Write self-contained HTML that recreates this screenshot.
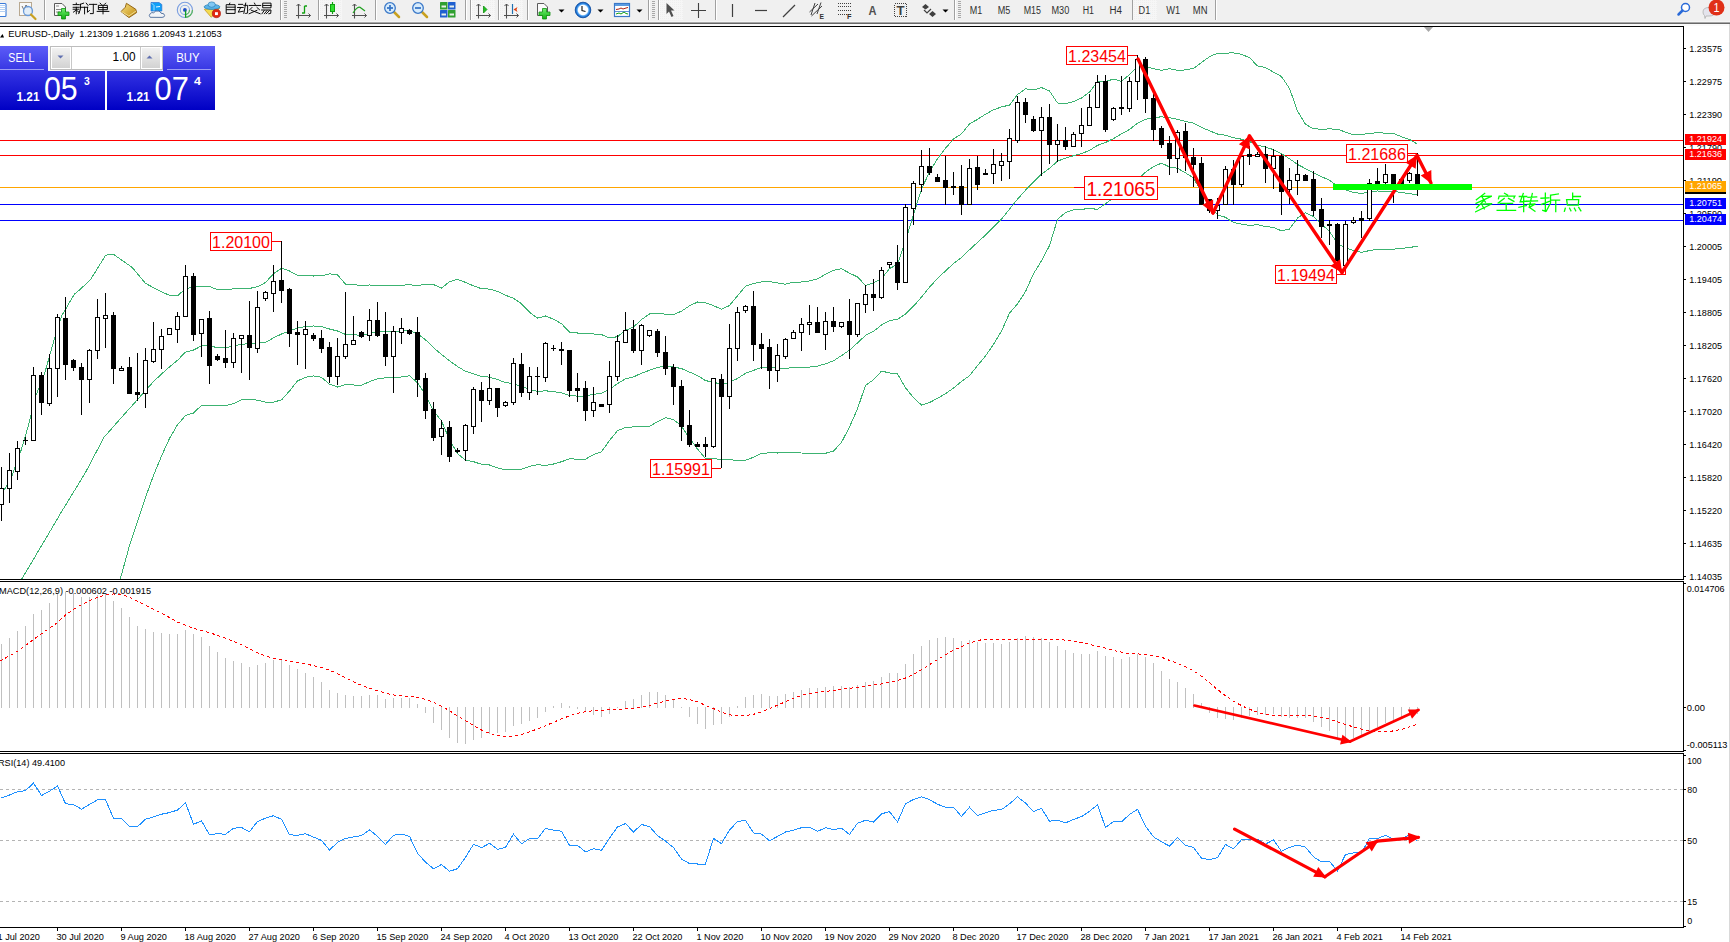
<!DOCTYPE html><html><head><meta charset="utf-8"><title>EURUSD-,Daily</title>
<style>html,body{margin:0;padding:0;background:#fff;overflow:hidden;width:1730px;height:942px}svg{display:block}text{font-family:"Liberation Sans",sans-serif}</style></head><body>
<svg width="1730" height="942" viewBox="0 0 1730 942">
<rect x="0" y="0" width="1730" height="942" fill="#ffffff"/>
<g id="toolbar">
<rect x="0" y="0" width="1730" height="22" fill="#f0f0f0"/>
<rect x="0" y="21" width="1730" height="1" fill="#f6f6f6"/>
<rect x="0" y="22" width="1730" height="1" fill="#a8a8a8"/>
<rect x="0" y="23" width="1730" height="1" fill="#686868"/>
<rect x="0" y="24" width="1730" height="2" fill="#fafafa"/>
<defs>
<linearGradient id="gold" x1="0" y1="0" x2="1" y2="1"><stop offset="0" stop-color="#f8e080"/><stop offset="1" stop-color="#c08a10"/></linearGradient>
<linearGradient id="bluedoc" x1="0" y1="0" x2="0" y2="1"><stop offset="0" stop-color="#bfe0ff"/><stop offset="1" stop-color="#3a8ee0"/></linearGradient>
<radialGradient id="clockg" cx="0.5" cy="0.5" r="0.5"><stop offset="0.6" stop-color="#ffffff"/><stop offset="0.75" stop-color="#4aa0f0"/><stop offset="1" stop-color="#0050b8"/></radialGradient>
<linearGradient id="greenp" x1="0" y1="0" x2="0" y2="1"><stop offset="0" stop-color="#70f070"/><stop offset="1" stop-color="#10b010"/></linearGradient>
<linearGradient id="hat" x1="0" y1="0" x2="0" y2="1"><stop offset="0" stop-color="#a8d8f8"/><stop offset="1" stop-color="#3a90d0"/></linearGradient>
<pattern id="chk" width="2" height="2" patternUnits="userSpaceOnUse"><rect width="2" height="2" fill="#f6f6f6"/><rect width="1" height="1" fill="#efefef"/></pattern>
</defs>
<rect x="319" y="0" width="23" height="20" fill="url(#chk)"/>
<rect x="471" y="0" width="24" height="20" fill="url(#chk)"/>
<rect x="499" y="0" width="24" height="20" fill="url(#chk)"/>
<rect x="659" y="0" width="24" height="20" fill="url(#chk)"/>
<rect x="1133" y="0" width="24" height="20" fill="url(#chk)"/>
<rect x="-4" y="3.5" width="10" height="13" rx="1" fill="#fff" stroke="#3a7ad8" stroke-width="1.1"/>
<rect x="-3" y="5" width="8.5" height="1" fill="#b4d0f4"/>
<rect x="-3" y="7" width="8.5" height="1" fill="#b4d0f4"/>
<rect x="-3" y="9" width="8.5" height="1" fill="#b4d0f4"/>
<rect x="-3" y="11" width="8.5" height="1" fill="#b4d0f4"/>
<rect x="19.5" y="2.5" width="12" height="13" fill="#f8f8f8" stroke="#b8a890" stroke-width="1"/>
<path d="M22,6 L24,10 L26,5 L28,8" fill="none" stroke="#707070" stroke-width="1"/>
<circle cx="28" cy="11" r="4.5" fill="#dceaf8" fill-opacity="0.8" stroke="#6a9ad8" stroke-width="1.3"/>
<path d="M31,14.5 L35.5,19" stroke="#c8a020" stroke-width="2.2" stroke-linecap="round"/>
<rect x="44" y="0" width="1" height="20" fill="#a0a0a0" shape-rendering="crispEdges"/><rect x="45" y="0" width="1" height="20" fill="#ffffff" shape-rendering="crispEdges"/>
<path d="M54.5,3.5 L62,3.5 L65.5,7 L65.5,15.5 L54.5,15.5 Z" fill="#fafafa" stroke="#5a5a5a" stroke-width="1"/>
<path d="M56,6 L59,6 M56,9.5 L61,9.5 M56,12 L60,12" stroke="#888" stroke-width="1"/>
<path d="M61.5,8.5 L65.5,8.5 L65.5,12 L69,12 L69,15.5 L65.5,15.5 L65.5,19 L61.5,19 L61.5,15.5 L58,15.5 L58,12 L61.5,12 Z" fill="url(#greenp)" stroke="#109010" stroke-width="0.8"/>
<g transform="translate(70,0) scale(0.024278)"><path d="M260,130 L260,170 M130,190 L370,190 M130,300 L380,300 M130,380 L370,380 M260,300 L260,570 M250,420 L140,500 M290,440 L380,510 M560,130 L420,180 M430,180 L430,380 L360,560 M430,300 L730,300 M600,300 L600,570 M670,130 L740,220 M720,300 L720,510 L800,430 M800,180 L1100,180 M960,180 L960,560 L840,560 M1240,130 L1290,180 M1470,130 L1420,180 M1190,220 L1540,220 L1540,400 L1190,400 Z M1190,310 L1540,310 M1360,220 L1360,570 M1120,470 L1600,470" fill="none" stroke="#000" stroke-width="0.95" vector-effect="non-scaling-stroke" stroke-linecap="square"/></g>
<path d="M126.4,3.3 L135.8,9.3 L136.6,12.6 L129,17.6 L121,11.5 L125.3,7.2 Z" fill="url(#gold)" stroke="#8a5a08" stroke-width="0.9" stroke-linejoin="round"/>
<path d="M121.5,11.6 L128.8,16 L136,11" fill="none" stroke="#f0dc90" stroke-width="1"/>
<path d="M151,2.5 L159,2.5 L161.8,4.5 L161.8,11 L151,11 Z" fill="#10a0f8" stroke="#2a70d0" stroke-width="0.7"/>
<path d="M151.5,3 L154,5.5 L154,10.5" fill="none" stroke="#c8ecff" stroke-width="0.8"/>
<path d="M156,7 L160,6.5" stroke="#e8f6ff" stroke-width="1.2"/>
<path d="M150.2,17.3 Q148.3,15.3 150.3,13.6 Q151.7,12 153.6,12.8 Q155.6,10.2 158.4,11.1 Q160.3,11 161,13.2 Q164.6,13.1 164.6,15.6 Q164.4,17.4 162,17.4 Z" fill="#f2f4f8" stroke="#4a6a9a" stroke-width="0.9"/>
<circle cx="184.9" cy="9.9" r="7.6" fill="none" stroke="#7a9ee0" stroke-width="1.1"/>
<circle cx="184.9" cy="9.9" r="4.6" fill="none" stroke="#8aaee6" stroke-width="1.1"/>
<path d="M192.5,9.9 A7.6,7.6 0 0 1 184.9,17.5 M189.5,9.9 A4.6,4.6 0 0 1 184.9,14.5" fill="none" stroke="#5ab85a" stroke-width="1.2"/>
<circle cx="184.9" cy="9.9" r="1.9" fill="#2050c8"/>
<path d="M185.6,10.5 L185.6,17.6" stroke="#10a020" stroke-width="1.3"/>
<path d="M204.3,9.3 L219.6,8.3 L211.3,17.3 Z" fill="#f4dc50" stroke="#c89a20" stroke-width="0.8" stroke-linejoin="round"/>
<ellipse cx="212" cy="6.9" rx="7.9" ry="2.5" fill="#5ab4e8" stroke="#2a80b8" stroke-width="0.8"/>
<ellipse cx="211.7" cy="4.6" rx="3.6" ry="2.7" fill="#80c8f4" stroke="#2a80b8" stroke-width="0.7"/>
<circle cx="216.4" cy="13.6" r="4.1" fill="#e02810" stroke="#b01808" stroke-width="0.7"/>
<rect x="215" y="12.2" width="2.9" height="2.9" fill="#fff"/>
<g transform="translate(222,0) scale(0.031211)"><path d="M250,100 L230,150 M150,150 L420,150 L420,430 L150,430 Z M150,230 L420,230 M150,310 L420,310 M530,140 L660,140 M500,240 L680,240 M600,240 L520,390 L680,360 M700,170 L820,170 L820,420 L760,430 M760,100 L700,430 M1040,100 L1060,140 M870,175 L1240,175 M960,240 L880,320 M1120,240 L1200,310 M940,330 L1220,440 M1120,330 L870,440 M1320,100 L1570,100 L1570,250 L1320,250 Z M1320,175 L1570,175 M1270,320 L1570,320 L1560,430 L1500,440 M1350,340 L1280,440 M1440,340 L1360,440 M1520,340 L1420,440" fill="none" stroke="#000" stroke-width="0.95" vector-effect="non-scaling-stroke" stroke-linecap="square"/></g>
<rect x="280" y="0" width="1" height="20" fill="#a0a0a0" shape-rendering="crispEdges"/><rect x="281" y="0" width="1" height="20" fill="#ffffff" shape-rendering="crispEdges"/>
<rect x="284" y="1" width="3" height="1" fill="#a8a8a8" shape-rendering="crispEdges"/>
<rect x="284" y="3" width="3" height="1" fill="#a8a8a8" shape-rendering="crispEdges"/>
<rect x="284" y="5" width="3" height="1" fill="#a8a8a8" shape-rendering="crispEdges"/>
<rect x="284" y="7" width="3" height="1" fill="#a8a8a8" shape-rendering="crispEdges"/>
<rect x="284" y="9" width="3" height="1" fill="#a8a8a8" shape-rendering="crispEdges"/>
<rect x="284" y="11" width="3" height="1" fill="#a8a8a8" shape-rendering="crispEdges"/>
<rect x="284" y="13" width="3" height="1" fill="#a8a8a8" shape-rendering="crispEdges"/>
<rect x="284" y="15" width="3" height="1" fill="#a8a8a8" shape-rendering="crispEdges"/>
<rect x="284" y="17" width="3" height="1" fill="#a8a8a8" shape-rendering="crispEdges"/>
<path d="M298.5,4 L298.5,18.5 M296,15.5 L310.5,15.5" fill="none" stroke="#505050" stroke-width="1.1"/>
<path d="M296.5,6 L298.5,4 L300.5,6 M308.5,13.5 L310.5,15.5 L308.5,17.5" fill="none" stroke="#505050" stroke-width="1"/>
<path d="M304.5,6 L304.5,13.5 M304.5,6 L307,6 M302,13 L304.5,13" fill="none" stroke="#10a010" stroke-width="1.3"/>
<rect x="318" y="0" width="1" height="20" fill="#a0a0a0" shape-rendering="crispEdges"/><rect x="319" y="0" width="1" height="20" fill="#ffffff" shape-rendering="crispEdges"/>
<path d="M326.5,4 L326.5,18.5 M324,15.5 L338.5,15.5" fill="none" stroke="#505050" stroke-width="1.1"/>
<path d="M324.5,6 L326.5,4 L328.5,6 M336.5,13.5 L338.5,15.5 L336.5,17.5" fill="none" stroke="#505050" stroke-width="1"/>
<path d="M332.5,2 L332.5,14" stroke="#10a010" stroke-width="1.2"/>
<rect x="330.5" y="4.5" width="4" height="7" fill="#30e030" stroke="#10a010" stroke-width="1"/>
<path d="M354.5,4 L354.5,18.5 M352,15.5 L366.5,15.5" fill="none" stroke="#505050" stroke-width="1.1"/>
<path d="M352.5,6 L354.5,4 L356.5,6 M364.5,13.5 L366.5,15.5 L364.5,17.5" fill="none" stroke="#505050" stroke-width="1"/>
<path d="M353,13 Q358,5 361,8 L365,11" fill="none" stroke="#20a020" stroke-width="1.2"/>
<rect x="375" y="0" width="1" height="20" fill="#a0a0a0" shape-rendering="crispEdges"/><rect x="376" y="0" width="1" height="20" fill="#ffffff" shape-rendering="crispEdges"/>
<path d="M393.5,11.5 L399,17" stroke="#c8a020" stroke-width="2.5" stroke-linecap="round"/>
<circle cx="390" cy="8" r="5.3" fill="#d8ecfc" stroke="#3a78c8" stroke-width="1.3"/>
<path d="M387,8 L393,8" stroke="#3a78c8" stroke-width="1.8"/>
<path d="M390,5 L390,11" stroke="#3a78c8" stroke-width="1.8"/>
<path d="M421.5,11.5 L427,17" stroke="#c8a020" stroke-width="2.5" stroke-linecap="round"/>
<circle cx="418" cy="8" r="5.3" fill="#d8ecfc" stroke="#3a78c8" stroke-width="1.3"/>
<path d="M415,8 L421,8" stroke="#3a78c8" stroke-width="1.8"/>
<rect x="440" y="2" width="7.5" height="7.5" fill="#30a030" rx="0.5"/>
<rect x="441.5" y="5.5" width="4.5" height="2" fill="#e8f0e8"/>
<rect x="448" y="2" width="7.5" height="7.5" fill="#2060d0" rx="0.5"/>
<rect x="449.5" y="5.5" width="4.5" height="2" fill="#e8f0e8"/>
<rect x="440" y="10" width="7.5" height="7.5" fill="#2060d0" rx="0.5"/>
<rect x="441.5" y="13.5" width="4.5" height="2" fill="#e8f0e8"/>
<rect x="448" y="10" width="7.5" height="7.5" fill="#30a030" rx="0.5"/>
<rect x="449.5" y="13.5" width="4.5" height="2" fill="#e8f0e8"/>
<rect x="465" y="0" width="1" height="20" fill="#a0a0a0" shape-rendering="crispEdges"/><rect x="466" y="0" width="1" height="20" fill="#ffffff" shape-rendering="crispEdges"/>
<rect x="470" y="0" width="1" height="20" fill="#a0a0a0" shape-rendering="crispEdges"/><rect x="471" y="0" width="1" height="20" fill="#ffffff" shape-rendering="crispEdges"/>
<path d="M478.5,4 L478.5,18.5 M476,15.5 L490.5,15.5" fill="none" stroke="#505050" stroke-width="1.1"/>
<path d="M476.5,6 L478.5,4 L480.5,6 M488.5,13.5 L490.5,15.5 L488.5,17.5" fill="none" stroke="#505050" stroke-width="1"/>
<path d="M483.5,6 L487,9.5 L483.5,13 Z" fill="#20c020" stroke="#109010" stroke-width="0.8"/>
<rect x="498" y="0" width="1" height="20" fill="#a0a0a0" shape-rendering="crispEdges"/><rect x="499" y="0" width="1" height="20" fill="#ffffff" shape-rendering="crispEdges"/>
<path d="M506.5,4 L506.5,18.5 M504,15.5 L518.5,15.5" fill="none" stroke="#505050" stroke-width="1.1"/>
<path d="M504.5,6 L506.5,4 L508.5,6 M516.5,13.5 L518.5,15.5 L516.5,17.5" fill="none" stroke="#505050" stroke-width="1"/>
<path d="M512.5,4 L512.5,14" stroke="#2070b0" stroke-width="1.2"/>
<path d="M513.5,9.5 L517.5,7 L516.5,9.5 L517.5,12 Z" fill="#e04010"/>
<rect x="527" y="0" width="1" height="20" fill="#a0a0a0" shape-rendering="crispEdges"/><rect x="528" y="0" width="1" height="20" fill="#ffffff" shape-rendering="crispEdges"/>
<path d="M537.5,3.5 L544,3.5 L547.5,7 L547.5,15.5 L537.5,15.5 Z" fill="#fafafa" stroke="#5a5a5a" stroke-width="1"/>
<path d="M541.5,8.5 L545.5,8.5 L545.5,12 L549,12 L549,15.5 L545.5,15.5 L545.5,19 L541.5,19 L541.5,15.5 L538,15.5 L538,12 L541.5,12 Z" transform="translate(1,0)" fill="url(#greenp)" stroke="#109010" stroke-width="0.8"/>
<path d="M558.5,9.5 L564.5,9.5 L561.5,12.5 Z" fill="#000"/>
<circle cx="583" cy="10" r="7.8" fill="url(#clockg)" stroke="#0a4aa0" stroke-width="0.8"/>
<path d="M582,6 L582,10.5 L585.5,11.5" fill="none" stroke="#202020" stroke-width="1.2"/>
<path d="M597.5,9.5 L603.5,9.5 L600.5,12.5 Z" fill="#000"/>
<rect x="614.5" y="3.5" width="15" height="13" fill="#fff" stroke="#3a78c8" stroke-width="1.2"/>
<rect x="615" y="4" width="14" height="2" fill="#5a9ae0"/>
<path d="M616,9.5 L619,9 L621,8 L623,9 L626,8 L628,7.5" fill="none" stroke="#b02010" stroke-width="1"/>
<path d="M616,14 L619,13 L621,14 L624,12 L626,13.5 L628,14" fill="none" stroke="#10a010" stroke-width="1"/>
<path d="M615,11.5 L629,11.5" stroke="#3a78c8" stroke-width="0.8"/>
<path d="M636.5,9.5 L642.5,9.5 L639.5,12.5 Z" fill="#000"/>
<rect x="648" y="0" width="1" height="20" fill="#a0a0a0" shape-rendering="crispEdges"/><rect x="649" y="0" width="1" height="20" fill="#ffffff" shape-rendering="crispEdges"/>
<rect x="652" y="1" width="3" height="1" fill="#a8a8a8" shape-rendering="crispEdges"/>
<rect x="652" y="3" width="3" height="1" fill="#a8a8a8" shape-rendering="crispEdges"/>
<rect x="652" y="5" width="3" height="1" fill="#a8a8a8" shape-rendering="crispEdges"/>
<rect x="652" y="7" width="3" height="1" fill="#a8a8a8" shape-rendering="crispEdges"/>
<rect x="652" y="9" width="3" height="1" fill="#a8a8a8" shape-rendering="crispEdges"/>
<rect x="652" y="11" width="3" height="1" fill="#a8a8a8" shape-rendering="crispEdges"/>
<rect x="652" y="13" width="3" height="1" fill="#a8a8a8" shape-rendering="crispEdges"/>
<rect x="652" y="15" width="3" height="1" fill="#a8a8a8" shape-rendering="crispEdges"/>
<rect x="652" y="17" width="3" height="1" fill="#a8a8a8" shape-rendering="crispEdges"/>
<rect x="658" y="0" width="1" height="20" fill="#a0a0a0" shape-rendering="crispEdges"/><rect x="659" y="0" width="1" height="20" fill="#ffffff" shape-rendering="crispEdges"/>
<path d="M666.5,3 L666.5,14 L669,11.5 L671.5,17 L673.5,16 L671,10.5 L674.5,10.5 Z" fill="#505050"/>
<path d="M698.5,3 L698.5,18 M691,10.5 L706,10.5" stroke="#404040" stroke-width="1.1"/>
<rect x="715" y="0" width="1" height="20" fill="#a0a0a0" shape-rendering="crispEdges"/><rect x="716" y="0" width="1" height="20" fill="#ffffff" shape-rendering="crispEdges"/>
<path d="M732.5,4 L732.5,17" stroke="#404040" stroke-width="1.2"/>
<path d="M755,10.5 L767,10.5" stroke="#404040" stroke-width="1.2"/>
<path d="M783,17 L795,5" stroke="#404040" stroke-width="1.2"/>
<path d="M809.5,12 L818,4 M811.5,16 L822,6 M815,3 L811,15 M821,2.5 L817,14" fill="none" stroke="#404040" stroke-width="1"/>
<text x="819.50" y="18.50" font-size="8" fill="#303030" font-weight="bold" textLength="4.50" lengthAdjust="spacingAndGlyphs">E</text>
<path d="M838,3.5 L851,3.5" stroke="#404040" stroke-width="1" stroke-dasharray="1,1"/>
<path d="M838,6.5 L851,6.5" stroke="#404040" stroke-width="1" stroke-dasharray="1,1"/>
<path d="M838,10.5 L851,10.5" stroke="#404040" stroke-width="1" stroke-dasharray="1,1"/>
<path d="M838,14.5 L851,14.5" stroke="#404040" stroke-width="1" stroke-dasharray="1,1"/>
<text x="847.00" y="18.50" font-size="8" fill="#303030" font-weight="bold" textLength="4.50" lengthAdjust="spacingAndGlyphs">F</text>
<text x="868.50" y="15.00" font-size="12" fill="#505050" font-weight="bold" textLength="8.00" lengthAdjust="spacingAndGlyphs">A</text>
<rect x="894.5" y="3.5" width="12" height="13" fill="none" stroke="#404040" stroke-width="1" stroke-dasharray="1,1" shape-rendering="crispEdges"/>
<text x="896.50" y="15.00" font-size="12" fill="#404040" font-weight="bold" textLength="8.00" lengthAdjust="spacingAndGlyphs">T</text>
<path d="M922,7 L925.5,4 L929,7 L925.5,9.5 Z M929,14 L932.5,11 L936,14 L932.5,17 Z" fill="#404040"/>
<path d="M924,10 L927,13 L931,9" fill="none" stroke="#404040" stroke-width="1.2"/>
<path d="M942.5,9.5 L948.5,9.5 L945.5,12.5 Z" fill="#000"/>
<rect x="954" y="0" width="1" height="20" fill="#a0a0a0" shape-rendering="crispEdges"/><rect x="955" y="0" width="1" height="20" fill="#ffffff" shape-rendering="crispEdges"/>
<rect x="958" y="1" width="3" height="1" fill="#a8a8a8" shape-rendering="crispEdges"/>
<rect x="958" y="3" width="3" height="1" fill="#a8a8a8" shape-rendering="crispEdges"/>
<rect x="958" y="5" width="3" height="1" fill="#a8a8a8" shape-rendering="crispEdges"/>
<rect x="958" y="7" width="3" height="1" fill="#a8a8a8" shape-rendering="crispEdges"/>
<rect x="958" y="9" width="3" height="1" fill="#a8a8a8" shape-rendering="crispEdges"/>
<rect x="958" y="11" width="3" height="1" fill="#a8a8a8" shape-rendering="crispEdges"/>
<rect x="958" y="13" width="3" height="1" fill="#a8a8a8" shape-rendering="crispEdges"/>
<rect x="958" y="15" width="3" height="1" fill="#a8a8a8" shape-rendering="crispEdges"/>
<rect x="958" y="17" width="3" height="1" fill="#a8a8a8" shape-rendering="crispEdges"/>
<text x="969.70" y="14.00" font-size="10" fill="#303030" textLength="12.50" lengthAdjust="spacingAndGlyphs">M1</text>
<text x="997.70" y="14.00" font-size="10" fill="#303030" textLength="12.60" lengthAdjust="spacingAndGlyphs">M5</text>
<text x="1023.70" y="14.00" font-size="10" fill="#303030" textLength="17.30" lengthAdjust="spacingAndGlyphs">M15</text>
<text x="1051.50" y="14.00" font-size="10" fill="#303030" textLength="17.80" lengthAdjust="spacingAndGlyphs">M30</text>
<text x="1082.70" y="14.00" font-size="10" fill="#303030" textLength="11.30" lengthAdjust="spacingAndGlyphs">H1</text>
<text x="1109.50" y="14.00" font-size="10" fill="#303030" textLength="12.50" lengthAdjust="spacingAndGlyphs">H4</text>
<text x="1138.60" y="14.00" font-size="10" fill="#303030" textLength="11.70" lengthAdjust="spacingAndGlyphs">D1</text>
<text x="1166.30" y="14.00" font-size="10" fill="#303030" textLength="13.90" lengthAdjust="spacingAndGlyphs">W1</text>
<text x="1192.80" y="14.00" font-size="10" fill="#303030" textLength="14.70" lengthAdjust="spacingAndGlyphs">MN</text>
<rect x="1132" y="0" width="1" height="20" fill="#a0a0a0"/>
<rect x="1215" y="0" width="1" height="20" fill="#a0a0a0" shape-rendering="crispEdges"/><rect x="1216" y="0" width="1" height="20" fill="#ffffff" shape-rendering="crispEdges"/>
<circle cx="1685.5" cy="7.5" r="4" fill="#fff" stroke="#2a6ad8" stroke-width="1.5"/>
<path d="M1682.5,10.5 L1678.5,14.5" stroke="#2a6ad8" stroke-width="2.5" stroke-linecap="round"/>
<path d="M1703,12 Q1703,7.5 1709,7.5 Q1715,7.5 1715,12 Q1715,16 1709,16 L1706,16 L1705,18.5 L1704.5,15.5 Q1703,14.5 1703,12 Z" fill="#e4e4ec" stroke="#b0b0b0" stroke-width="0.8"/>
<circle cx="1716.5" cy="7.5" r="8" fill="#e03018"/>
<text x="1713.60" y="12.20" font-size="12" fill="#fff" textLength="6.00" lengthAdjust="spacingAndGlyphs">1</text>
</g>
<g shape-rendering="crispEdges">
<rect x="0" y="26" width="1684" height="1" fill="#000"/>
<rect x="0" y="579" width="1684" height="1" fill="#000"/>
<rect x="0" y="581" width="1684" height="1" fill="#000"/>
<rect x="0" y="751" width="1684" height="1" fill="#000"/>
<rect x="0" y="753" width="1684" height="1" fill="#000"/>
<rect x="0" y="927" width="1684" height="1" fill="#000"/>
<rect x="1683" y="26" width="1" height="554" fill="#000"/>
<rect x="1683" y="581" width="1" height="171" fill="#000"/>
<rect x="1683" y="753" width="1" height="175" fill="#000"/>
<rect x="1729" y="24" width="1" height="918" fill="#d9d9d9"/>
</g>
<clipPath id="cm"><rect x="0" y="27" width="1683" height="552"/></clipPath>
<g clip-path="url(#cm)">
<g shape-rendering="crispEdges">
<rect x="0" y="140" width="1683" height="1" fill="#ff0000"/>
<rect x="0" y="155" width="1683" height="1" fill="#ff0000"/>
<rect x="0" y="187" width="1683" height="1" fill="#ffa500"/>
<rect x="0" y="204" width="1683" height="1" fill="#0000ff"/>
<rect x="0" y="220" width="1683" height="1" fill="#0000ff"/>
</g>
<polyline fill="none" stroke="#3cb371" stroke-width="1" shape-rendering="crispEdges" points="-2.0,499.0 3.8,490.4 10.6,479.8 21.2,450.0 28.7,424.6 35.9,395.4 44.4,374.2 55.5,335.1 61.4,316.4 74.2,294.4 79.3,290.1 90.3,280.0 105.6,255.3 113.2,254.1 131.9,267.2 145.5,283.3 153.5,287.7 161.5,291.9 169.5,295.3 177.5,295.8 185.5,288.7 193.5,287.1 201.5,286.3 209.5,286.4 217.5,289.7 225.5,289.7 233.5,288.8 241.5,288.5 249.5,288.4 257.5,286.8 265.5,282.5 273.5,273.8 281.5,268.2 289.5,271.0 297.5,275.3 305.5,275.8 313.5,276.0 321.5,275.8 329.5,273.8 337.5,274.9 345.5,284.1 353.5,284.4 361.5,285.8 369.5,285.0 377.5,285.2 385.5,285.7 393.5,285.4 401.5,285.1 409.5,284.9 417.5,285.2 425.5,284.8 433.5,284.5 441.5,288.1 449.5,281.7 457.5,279.3 465.5,282.4 473.5,285.9 481.5,288.7 489.5,289.1 497.5,291.4 505.5,295.3 513.5,298.2 521.5,303.8 529.5,312.2 537.5,318.1 545.5,316.0 553.5,319.2 561.5,323.7 569.5,332.1 577.5,333.0 585.5,333.0 593.5,334.0 601.5,334.6 609.5,337.9 617.5,336.7 625.5,330.3 633.5,327.0 641.5,319.6 649.5,314.0 657.5,313.4 665.5,314.1 673.5,314.5 681.5,311.2 689.5,305.9 697.5,302.0 705.5,302.7 713.5,305.7 721.5,309.2 729.5,305.5 737.5,295.9 745.5,286.3 753.5,283.6 761.5,281.8 769.5,281.6 777.5,282.9 785.5,284.2 793.5,282.2 801.5,282.0 809.5,280.9 817.5,278.8 825.5,274.3 833.5,270.4 841.5,268.8 849.5,273.1 857.5,277.0 865.5,285.4 873.5,282.8 881.5,278.9 889.5,268.5 897.5,264.4 905.5,240.8 913.5,214.6 921.5,189.2 929.5,171.8 937.5,158.7 945.5,148.2 953.5,139.1 961.5,133.8 969.5,123.9 977.5,119.4 985.5,114.2 993.5,109.8 1001.5,106.9 1009.5,105.1 1017.5,94.6 1025.5,88.8 1033.5,89.9 1041.5,87.6 1049.5,90.9 1057.5,103.0 1065.5,103.6 1073.5,101.5 1081.5,98.1 1089.5,92.1 1097.5,81.7 1105.5,81.4 1113.5,79.2 1121.5,81.3 1129.5,74.6 1137.5,66.2 1145.5,66.6 1153.5,68.6 1161.5,70.4 1169.5,68.7 1177.5,70.4 1185.5,69.9 1193.5,68.4 1201.5,62.5 1209.5,56.7 1217.5,53.2 1225.5,53.1 1233.5,52.9 1241.5,54.3 1249.5,57.7 1257.5,65.9 1265.5,67.6 1273.5,72.1 1281.5,76.6 1289.5,88.5 1297.5,111.0 1305.5,124.3 1313.5,128.8 1321.5,129.2 1329.5,128.9 1337.5,129.2 1345.5,132.1 1353.5,134.7 1361.5,134.5 1369.5,133.5 1377.5,132.6 1385.5,133.2 1393.5,133.3 1401.5,136.8 1409.5,139.5 1417.5,144.1"/>
<polyline fill="none" stroke="#3cb371" stroke-width="1" shape-rendering="crispEdges" points="-10.0,600.0 21.2,580.0 46.7,537.0 61.6,511.6 85.0,473.4 104.0,437.3 119.0,420.3 138.0,399.0 153.5,381.6 161.5,374.0 169.5,366.9 177.5,360.3 185.5,352.1 193.5,350.0 201.5,345.9 209.5,345.7 217.5,347.8 225.5,347.7 233.5,346.3 241.5,344.1 249.5,343.9 257.5,343.4 265.5,342.3 273.5,337.9 281.5,334.0 289.5,331.0 297.5,328.1 305.5,326.5 313.5,326.0 321.5,326.6 329.5,329.0 337.5,331.0 345.5,334.4 353.5,334.7 361.5,335.5 369.5,333.3 377.5,332.1 385.5,331.8 393.5,331.4 401.5,331.1 409.5,330.4 417.5,333.9 425.5,339.8 433.5,347.6 441.5,354.5 449.5,360.7 457.5,366.5 465.5,371.3 473.5,373.8 481.5,376.5 489.5,377.1 497.5,379.6 505.5,382.5 513.5,383.7 521.5,386.5 529.5,389.3 537.5,391.4 545.5,390.8 553.5,391.6 561.5,392.7 569.5,395.5 577.5,396.1 585.5,396.1 593.5,394.3 601.5,393.2 609.5,389.2 617.5,383.7 625.5,378.9 633.5,376.9 641.5,373.2 649.5,370.3 657.5,367.6 665.5,365.8 673.5,367.0 681.5,368.6 689.5,372.1 697.5,375.5 705.5,380.6 713.5,382.2 721.5,384.4 729.5,382.4 737.5,378.5 745.5,373.3 753.5,370.4 761.5,367.5 769.5,367.2 777.5,367.9 785.5,368.4 793.5,367.6 801.5,367.5 809.5,367.1 817.5,366.1 825.5,363.8 833.5,360.8 841.5,355.6 849.5,350.1 857.5,342.9 865.5,335.4 873.5,331.3 881.5,325.0 889.5,320.7 897.5,319.2 905.5,314.2 913.5,306.2 921.5,297.1 929.5,287.2 937.5,278.5 945.5,270.9 953.5,263.6 961.5,257.6 969.5,249.8 977.5,242.4 985.5,235.1 993.5,227.0 1001.5,219.0 1009.5,209.2 1017.5,199.2 1025.5,190.2 1033.5,181.8 1041.5,174.2 1049.5,168.3 1057.5,161.2 1065.5,158.1 1073.5,155.7 1081.5,153.6 1089.5,150.4 1097.5,145.4 1105.5,142.5 1113.5,138.6 1121.5,133.8 1129.5,129.5 1137.5,123.2 1145.5,119.4 1153.5,117.6 1161.5,116.8 1169.5,117.8 1177.5,119.3 1185.5,121.4 1193.5,123.1 1201.5,127.4 1209.5,130.8 1217.5,134.0 1225.5,135.2 1233.5,137.7 1241.5,139.2 1249.5,141.6 1257.5,145.2 1265.5,147.2 1273.5,149.6 1281.5,153.8 1289.5,158.7 1297.5,164.5 1305.5,168.6 1313.5,172.6 1321.5,176.7 1329.5,180.1 1337.5,186.5 1345.5,189.8 1353.5,192.6 1361.5,193.4 1369.5,192.0 1377.5,191.0 1385.5,191.2 1393.5,191.2 1401.5,192.6 1409.5,193.5 1417.5,195.1"/>
<polyline fill="none" stroke="#3cb371" stroke-width="1" shape-rendering="crispEdges" points="110.0,615.0 120.0,580.0 129.5,545.6 146.5,494.6 153.5,475.4 161.5,456.1 169.5,438.5 177.5,424.8 185.5,415.5 193.5,413.0 201.5,405.4 209.5,405.1 217.5,405.9 225.5,405.7 233.5,403.7 241.5,399.7 249.5,399.5 257.5,400.1 265.5,402.1 273.5,402.1 281.5,399.9 289.5,391.0 297.5,380.9 305.5,377.3 313.5,376.0 321.5,377.3 329.5,384.2 337.5,387.0 345.5,384.6 353.5,385.0 361.5,385.3 369.5,381.6 377.5,378.9 385.5,377.8 393.5,377.4 401.5,377.0 409.5,375.8 417.5,382.7 425.5,394.8 433.5,410.7 441.5,420.9 449.5,439.7 457.5,453.7 465.5,460.2 473.5,461.7 481.5,464.3 489.5,465.0 497.5,467.9 505.5,469.7 513.5,469.2 521.5,469.2 529.5,466.4 537.5,464.7 545.5,465.5 553.5,464.0 561.5,461.7 569.5,458.9 577.5,459.1 585.5,459.1 593.5,454.6 601.5,451.8 609.5,440.5 617.5,430.7 625.5,427.5 633.5,426.9 641.5,426.7 649.5,426.5 657.5,421.7 665.5,417.6 673.5,419.5 681.5,426.1 689.5,438.2 697.5,449.0 705.5,458.5 713.5,458.6 721.5,459.6 729.5,459.2 737.5,461.0 745.5,460.3 753.5,457.2 761.5,453.3 769.5,452.9 777.5,453.0 785.5,452.7 793.5,452.9 801.5,453.0 809.5,453.3 817.5,453.4 825.5,453.3 833.5,451.1 841.5,442.3 849.5,427.0 857.5,408.9 865.5,385.3 873.5,379.8 881.5,371.1 889.5,372.9 897.5,374.0 905.5,387.7 913.5,397.8 921.5,405.0 929.5,402.6 937.5,398.3 945.5,393.6 953.5,388.1 961.5,381.4 969.5,375.8 977.5,365.5 985.5,356.0 993.5,344.3 1001.5,331.1 1009.5,313.2 1017.5,303.8 1025.5,291.6 1033.5,273.8 1041.5,260.8 1049.5,245.6 1057.5,219.3 1065.5,212.6 1073.5,209.9 1081.5,209.2 1089.5,208.7 1097.5,209.2 1105.5,203.7 1113.5,197.9 1121.5,186.3 1129.5,184.4 1137.5,180.1 1145.5,172.2 1153.5,166.6 1161.5,163.2 1169.5,166.9 1177.5,168.2 1185.5,172.9 1193.5,177.8 1201.5,192.4 1209.5,204.9 1217.5,214.8 1225.5,217.3 1233.5,222.5 1241.5,224.1 1249.5,225.5 1257.5,224.6 1265.5,226.8 1273.5,227.2 1281.5,230.9 1289.5,229.0 1297.5,218.0 1305.5,212.9 1313.5,216.4 1321.5,224.3 1329.5,231.3 1337.5,243.8 1345.5,247.6 1353.5,250.5 1361.5,252.3 1369.5,250.6 1377.5,249.3 1385.5,249.2 1393.5,249.2 1401.5,248.4 1409.5,247.5 1417.5,246.2"/>
<g shape-rendering="crispEdges">
<rect x="1" y="467" width="1" height="54" fill="#000"/>
<rect x="-1" y="488" width="5" height="17" fill="#000"/>
<rect x="0" y="489" width="3" height="15" fill="#fff"/>
<rect x="9" y="453" width="1" height="50" fill="#000"/>
<rect x="7" y="470" width="5" height="19" fill="#000"/>
<rect x="8" y="471" width="3" height="17" fill="#fff"/>
<rect x="17" y="441" width="1" height="39" fill="#000"/>
<rect x="15" y="448" width="5" height="24" fill="#000"/>
<rect x="16" y="449" width="3" height="22" fill="#fff"/>
<rect x="25" y="437" width="1" height="8" fill="#000"/>
<rect x="23" y="440" width="5" height="1" fill="#000"/>
<rect x="33" y="367" width="1" height="74" fill="#000"/>
<rect x="31" y="375" width="5" height="66" fill="#000"/>
<rect x="32" y="376" width="3" height="64" fill="#fff"/>
<rect x="41" y="372" width="1" height="43" fill="#000"/>
<rect x="39" y="375" width="5" height="28" fill="#000"/>
<rect x="49" y="354" width="1" height="52" fill="#000"/>
<rect x="47" y="368" width="5" height="36" fill="#000"/>
<rect x="48" y="369" width="3" height="34" fill="#fff"/>
<rect x="57" y="314" width="1" height="83" fill="#000"/>
<rect x="55" y="317" width="5" height="52" fill="#000"/>
<rect x="56" y="318" width="3" height="50" fill="#fff"/>
<rect x="65" y="297" width="1" height="83" fill="#000"/>
<rect x="63" y="318" width="5" height="47" fill="#000"/>
<rect x="73" y="359" width="1" height="12" fill="#000"/>
<rect x="71" y="360" width="5" height="8" fill="#000"/>
<rect x="81" y="363" width="1" height="52" fill="#000"/>
<rect x="79" y="367" width="5" height="13" fill="#000"/>
<rect x="89" y="349" width="1" height="54" fill="#000"/>
<rect x="87" y="350" width="5" height="30" fill="#000"/>
<rect x="88" y="351" width="3" height="28" fill="#fff"/>
<rect x="97" y="299" width="1" height="60" fill="#000"/>
<rect x="95" y="317" width="5" height="34" fill="#000"/>
<rect x="96" y="318" width="3" height="32" fill="#fff"/>
<rect x="105" y="293" width="1" height="55" fill="#000"/>
<rect x="103" y="315" width="5" height="4" fill="#000"/>
<rect x="104" y="316" width="3" height="2" fill="#fff"/>
<rect x="113" y="312" width="1" height="72" fill="#000"/>
<rect x="111" y="315" width="5" height="54" fill="#000"/>
<rect x="121" y="366" width="1" height="5" fill="#000"/>
<rect x="119" y="368" width="5" height="3" fill="#000"/>
<rect x="120" y="369" width="3" height="1" fill="#fff"/>
<rect x="129" y="357" width="1" height="37" fill="#000"/>
<rect x="127" y="367" width="5" height="27" fill="#000"/>
<rect x="137" y="353" width="1" height="48" fill="#000"/>
<rect x="135" y="392" width="5" height="3" fill="#000"/>
<rect x="145" y="348" width="1" height="60" fill="#000"/>
<rect x="143" y="360" width="5" height="34" fill="#000"/>
<rect x="144" y="361" width="3" height="32" fill="#fff"/>
<rect x="153" y="322" width="1" height="41" fill="#000"/>
<rect x="151" y="349" width="5" height="13" fill="#000"/>
<rect x="152" y="350" width="3" height="11" fill="#fff"/>
<rect x="161" y="329" width="1" height="40" fill="#000"/>
<rect x="159" y="336" width="5" height="14" fill="#000"/>
<rect x="160" y="337" width="3" height="12" fill="#fff"/>
<rect x="169" y="328" width="1" height="7" fill="#000"/>
<rect x="167" y="328" width="5" height="7" fill="#000"/>
<rect x="168" y="329" width="3" height="5" fill="#fff"/>
<rect x="177" y="312" width="1" height="31" fill="#000"/>
<rect x="175" y="316" width="5" height="14" fill="#000"/>
<rect x="176" y="317" width="3" height="12" fill="#fff"/>
<rect x="185" y="265" width="1" height="52" fill="#000"/>
<rect x="183" y="276" width="5" height="41" fill="#000"/>
<rect x="184" y="277" width="3" height="39" fill="#fff"/>
<rect x="193" y="273" width="1" height="68" fill="#000"/>
<rect x="191" y="276" width="5" height="59" fill="#000"/>
<rect x="201" y="319" width="1" height="38" fill="#000"/>
<rect x="199" y="319" width="5" height="15" fill="#000"/>
<rect x="200" y="320" width="3" height="13" fill="#fff"/>
<rect x="209" y="311" width="1" height="73" fill="#000"/>
<rect x="207" y="318" width="5" height="48" fill="#000"/>
<rect x="217" y="354" width="1" height="7" fill="#000"/>
<rect x="215" y="356" width="5" height="4" fill="#000"/>
<rect x="225" y="330" width="1" height="38" fill="#000"/>
<rect x="223" y="358" width="5" height="5" fill="#000"/>
<rect x="233" y="333" width="1" height="35" fill="#000"/>
<rect x="231" y="338" width="5" height="25" fill="#000"/>
<rect x="232" y="339" width="3" height="23" fill="#fff"/>
<rect x="241" y="335" width="1" height="38" fill="#000"/>
<rect x="239" y="335" width="5" height="4" fill="#000"/>
<rect x="240" y="336" width="3" height="2" fill="#fff"/>
<rect x="249" y="301" width="1" height="79" fill="#000"/>
<rect x="247" y="335" width="5" height="13" fill="#000"/>
<rect x="257" y="291" width="1" height="62" fill="#000"/>
<rect x="255" y="307" width="5" height="42" fill="#000"/>
<rect x="256" y="308" width="3" height="40" fill="#fff"/>
<rect x="265" y="291" width="1" height="10" fill="#000"/>
<rect x="263" y="292" width="5" height="7" fill="#000"/>
<rect x="264" y="293" width="3" height="5" fill="#fff"/>
<rect x="273" y="265" width="1" height="47" fill="#000"/>
<rect x="271" y="281" width="5" height="13" fill="#000"/>
<rect x="272" y="282" width="3" height="11" fill="#fff"/>
<rect x="281" y="241" width="1" height="62" fill="#000"/>
<rect x="279" y="280" width="5" height="11" fill="#000"/>
<rect x="289" y="288" width="1" height="59" fill="#000"/>
<rect x="287" y="289" width="5" height="45" fill="#000"/>
<rect x="297" y="321" width="1" height="44" fill="#000"/>
<rect x="295" y="332" width="5" height="3" fill="#000"/>
<rect x="305" y="321" width="1" height="48" fill="#000"/>
<rect x="303" y="329" width="5" height="6" fill="#000"/>
<rect x="304" y="330" width="3" height="4" fill="#fff"/>
<rect x="313" y="333" width="1" height="8" fill="#000"/>
<rect x="311" y="335" width="5" height="4" fill="#000"/>
<rect x="321" y="330" width="1" height="23" fill="#000"/>
<rect x="319" y="338" width="5" height="11" fill="#000"/>
<rect x="329" y="342" width="1" height="41" fill="#000"/>
<rect x="327" y="347" width="5" height="30" fill="#000"/>
<rect x="337" y="338" width="1" height="47" fill="#000"/>
<rect x="335" y="356" width="5" height="21" fill="#000"/>
<rect x="336" y="357" width="3" height="19" fill="#fff"/>
<rect x="345" y="292" width="1" height="67" fill="#000"/>
<rect x="343" y="344" width="5" height="13" fill="#000"/>
<rect x="344" y="345" width="3" height="11" fill="#fff"/>
<rect x="353" y="316" width="1" height="29" fill="#000"/>
<rect x="351" y="340" width="5" height="5" fill="#000"/>
<rect x="352" y="341" width="3" height="3" fill="#fff"/>
<rect x="361" y="331" width="1" height="7" fill="#000"/>
<rect x="359" y="332" width="5" height="5" fill="#000"/>
<rect x="369" y="309" width="1" height="32" fill="#000"/>
<rect x="367" y="320" width="5" height="16" fill="#000"/>
<rect x="368" y="321" width="3" height="14" fill="#fff"/>
<rect x="377" y="302" width="1" height="35" fill="#000"/>
<rect x="375" y="320" width="5" height="16" fill="#000"/>
<rect x="385" y="312" width="1" height="54" fill="#000"/>
<rect x="383" y="334" width="5" height="23" fill="#000"/>
<rect x="393" y="326" width="1" height="67" fill="#000"/>
<rect x="391" y="331" width="5" height="26" fill="#000"/>
<rect x="392" y="332" width="3" height="24" fill="#fff"/>
<rect x="401" y="318" width="1" height="26" fill="#000"/>
<rect x="399" y="328" width="5" height="5" fill="#000"/>
<rect x="400" y="329" width="3" height="3" fill="#fff"/>
<rect x="409" y="329" width="1" height="6" fill="#000"/>
<rect x="407" y="330" width="5" height="4" fill="#000"/>
<rect x="417" y="317" width="1" height="80" fill="#000"/>
<rect x="415" y="332" width="5" height="48" fill="#000"/>
<rect x="425" y="373" width="1" height="46" fill="#000"/>
<rect x="423" y="378" width="5" height="33" fill="#000"/>
<rect x="433" y="402" width="1" height="39" fill="#000"/>
<rect x="431" y="409" width="5" height="29" fill="#000"/>
<rect x="441" y="420" width="1" height="35" fill="#000"/>
<rect x="439" y="428" width="5" height="9" fill="#000"/>
<rect x="440" y="429" width="3" height="7" fill="#fff"/>
<rect x="449" y="421" width="1" height="41" fill="#000"/>
<rect x="447" y="427" width="5" height="30" fill="#000"/>
<rect x="457" y="448" width="1" height="5" fill="#000"/>
<rect x="455" y="450" width="5" height="2" fill="#000"/>
<rect x="465" y="424" width="1" height="37" fill="#000"/>
<rect x="463" y="425" width="5" height="26" fill="#000"/>
<rect x="464" y="426" width="3" height="24" fill="#fff"/>
<rect x="473" y="387" width="1" height="47" fill="#000"/>
<rect x="471" y="389" width="5" height="38" fill="#000"/>
<rect x="472" y="390" width="3" height="36" fill="#fff"/>
<rect x="481" y="382" width="1" height="40" fill="#000"/>
<rect x="479" y="390" width="5" height="11" fill="#000"/>
<rect x="489" y="374" width="1" height="31" fill="#000"/>
<rect x="487" y="388" width="5" height="13" fill="#000"/>
<rect x="488" y="389" width="3" height="11" fill="#fff"/>
<rect x="497" y="388" width="1" height="29" fill="#000"/>
<rect x="495" y="388" width="5" height="20" fill="#000"/>
<rect x="505" y="401" width="1" height="6" fill="#000"/>
<rect x="503" y="402" width="5" height="4" fill="#000"/>
<rect x="504" y="403" width="3" height="2" fill="#fff"/>
<rect x="513" y="358" width="1" height="47" fill="#000"/>
<rect x="511" y="363" width="5" height="40" fill="#000"/>
<rect x="512" y="364" width="3" height="38" fill="#fff"/>
<rect x="521" y="353" width="1" height="44" fill="#000"/>
<rect x="519" y="364" width="5" height="29" fill="#000"/>
<rect x="529" y="367" width="1" height="33" fill="#000"/>
<rect x="527" y="376" width="5" height="17" fill="#000"/>
<rect x="528" y="377" width="3" height="15" fill="#fff"/>
<rect x="537" y="367" width="1" height="28" fill="#000"/>
<rect x="535" y="376" width="5" height="1" fill="#000"/>
<rect x="545" y="342" width="1" height="40" fill="#000"/>
<rect x="543" y="343" width="5" height="35" fill="#000"/>
<rect x="544" y="344" width="3" height="33" fill="#fff"/>
<rect x="553" y="345" width="1" height="6" fill="#000"/>
<rect x="551" y="348" width="5" height="1" fill="#000"/>
<rect x="561" y="342" width="1" height="23" fill="#000"/>
<rect x="559" y="349" width="5" height="2" fill="#000"/>
<rect x="569" y="350" width="1" height="47" fill="#000"/>
<rect x="567" y="350" width="5" height="41" fill="#000"/>
<rect x="577" y="373" width="1" height="29" fill="#000"/>
<rect x="575" y="388" width="5" height="3" fill="#000"/>
<rect x="585" y="381" width="1" height="40" fill="#000"/>
<rect x="583" y="388" width="5" height="23" fill="#000"/>
<rect x="593" y="387" width="1" height="30" fill="#000"/>
<rect x="591" y="402" width="5" height="9" fill="#000"/>
<rect x="592" y="403" width="3" height="7" fill="#fff"/>
<rect x="601" y="404" width="1" height="3" fill="#000"/>
<rect x="599" y="404" width="5" height="3" fill="#000"/>
<rect x="609" y="361" width="1" height="52" fill="#000"/>
<rect x="607" y="376" width="5" height="29" fill="#000"/>
<rect x="608" y="377" width="3" height="27" fill="#fff"/>
<rect x="617" y="335" width="1" height="46" fill="#000"/>
<rect x="615" y="341" width="5" height="36" fill="#000"/>
<rect x="616" y="342" width="3" height="34" fill="#fff"/>
<rect x="625" y="312" width="1" height="31" fill="#000"/>
<rect x="623" y="330" width="5" height="13" fill="#000"/>
<rect x="624" y="331" width="3" height="11" fill="#fff"/>
<rect x="633" y="320" width="1" height="33" fill="#000"/>
<rect x="631" y="329" width="5" height="22" fill="#000"/>
<rect x="641" y="324" width="1" height="41" fill="#000"/>
<rect x="639" y="325" width="5" height="26" fill="#000"/>
<rect x="640" y="326" width="3" height="24" fill="#fff"/>
<rect x="649" y="330" width="1" height="7" fill="#000"/>
<rect x="647" y="330" width="5" height="6" fill="#000"/>
<rect x="648" y="331" width="3" height="4" fill="#fff"/>
<rect x="657" y="329" width="1" height="28" fill="#000"/>
<rect x="655" y="331" width="5" height="22" fill="#000"/>
<rect x="665" y="336" width="1" height="39" fill="#000"/>
<rect x="663" y="352" width="5" height="17" fill="#000"/>
<rect x="673" y="364" width="1" height="41" fill="#000"/>
<rect x="671" y="367" width="5" height="20" fill="#000"/>
<rect x="681" y="380" width="1" height="61" fill="#000"/>
<rect x="679" y="386" width="5" height="41" fill="#000"/>
<rect x="689" y="410" width="1" height="37" fill="#000"/>
<rect x="687" y="425" width="5" height="20" fill="#000"/>
<rect x="697" y="442" width="1" height="5" fill="#000"/>
<rect x="695" y="444" width="5" height="3" fill="#000"/>
<rect x="705" y="437" width="1" height="20" fill="#000"/>
<rect x="703" y="444" width="5" height="3" fill="#000"/>
<rect x="713" y="378" width="1" height="70" fill="#000"/>
<rect x="711" y="378" width="5" height="69" fill="#000"/>
<rect x="712" y="379" width="3" height="67" fill="#fff"/>
<rect x="721" y="374" width="1" height="94" fill="#000"/>
<rect x="719" y="379" width="5" height="18" fill="#000"/>
<rect x="729" y="324" width="1" height="85" fill="#000"/>
<rect x="727" y="348" width="5" height="49" fill="#000"/>
<rect x="728" y="349" width="3" height="47" fill="#fff"/>
<rect x="737" y="307" width="1" height="54" fill="#000"/>
<rect x="735" y="312" width="5" height="37" fill="#000"/>
<rect x="736" y="313" width="3" height="35" fill="#fff"/>
<rect x="745" y="305" width="1" height="8" fill="#000"/>
<rect x="743" y="306" width="5" height="5" fill="#000"/>
<rect x="744" y="307" width="3" height="3" fill="#fff"/>
<rect x="753" y="291" width="1" height="70" fill="#000"/>
<rect x="751" y="306" width="5" height="39" fill="#000"/>
<rect x="761" y="333" width="1" height="36" fill="#000"/>
<rect x="759" y="344" width="5" height="5" fill="#000"/>
<rect x="769" y="339" width="1" height="50" fill="#000"/>
<rect x="767" y="347" width="5" height="24" fill="#000"/>
<rect x="777" y="344" width="1" height="38" fill="#000"/>
<rect x="775" y="355" width="5" height="16" fill="#000"/>
<rect x="776" y="356" width="3" height="14" fill="#fff"/>
<rect x="785" y="338" width="1" height="21" fill="#000"/>
<rect x="783" y="339" width="5" height="18" fill="#000"/>
<rect x="784" y="340" width="3" height="16" fill="#fff"/>
<rect x="793" y="330" width="1" height="9" fill="#000"/>
<rect x="791" y="332" width="5" height="7" fill="#000"/>
<rect x="792" y="333" width="3" height="5" fill="#fff"/>
<rect x="801" y="318" width="1" height="33" fill="#000"/>
<rect x="799" y="324" width="5" height="9" fill="#000"/>
<rect x="800" y="325" width="3" height="7" fill="#fff"/>
<rect x="809" y="305" width="1" height="30" fill="#000"/>
<rect x="807" y="322" width="5" height="3" fill="#000"/>
<rect x="808" y="323" width="3" height="1" fill="#fff"/>
<rect x="817" y="307" width="1" height="26" fill="#000"/>
<rect x="815" y="322" width="5" height="11" fill="#000"/>
<rect x="825" y="312" width="1" height="38" fill="#000"/>
<rect x="823" y="321" width="5" height="14" fill="#000"/>
<rect x="824" y="322" width="3" height="12" fill="#fff"/>
<rect x="833" y="307" width="1" height="25" fill="#000"/>
<rect x="831" y="321" width="5" height="6" fill="#000"/>
<rect x="841" y="322" width="1" height="6" fill="#000"/>
<rect x="839" y="322" width="5" height="5" fill="#000"/>
<rect x="840" y="323" width="3" height="3" fill="#fff"/>
<rect x="849" y="299" width="1" height="60" fill="#000"/>
<rect x="847" y="321" width="5" height="14" fill="#000"/>
<rect x="857" y="303" width="1" height="34" fill="#000"/>
<rect x="855" y="303" width="5" height="32" fill="#000"/>
<rect x="856" y="304" width="3" height="30" fill="#fff"/>
<rect x="865" y="285" width="1" height="28" fill="#000"/>
<rect x="863" y="294" width="5" height="11" fill="#000"/>
<rect x="864" y="295" width="3" height="9" fill="#fff"/>
<rect x="873" y="279" width="1" height="32" fill="#000"/>
<rect x="871" y="294" width="5" height="4" fill="#000"/>
<rect x="881" y="267" width="1" height="32" fill="#000"/>
<rect x="879" y="270" width="5" height="28" fill="#000"/>
<rect x="880" y="271" width="3" height="26" fill="#fff"/>
<rect x="889" y="262" width="1" height="6" fill="#000"/>
<rect x="887" y="262" width="5" height="3" fill="#000"/>
<rect x="888" y="263" width="3" height="1" fill="#fff"/>
<rect x="897" y="245" width="1" height="45" fill="#000"/>
<rect x="895" y="262" width="5" height="21" fill="#000"/>
<rect x="905" y="204" width="1" height="79" fill="#000"/>
<rect x="903" y="207" width="5" height="76" fill="#000"/>
<rect x="904" y="208" width="3" height="74" fill="#fff"/>
<rect x="913" y="181" width="1" height="44" fill="#000"/>
<rect x="911" y="183" width="5" height="26" fill="#000"/>
<rect x="912" y="184" width="3" height="24" fill="#fff"/>
<rect x="921" y="150" width="1" height="42" fill="#000"/>
<rect x="919" y="166" width="5" height="19" fill="#000"/>
<rect x="920" y="167" width="3" height="17" fill="#fff"/>
<rect x="929" y="148" width="1" height="27" fill="#000"/>
<rect x="927" y="166" width="5" height="7" fill="#000"/>
<rect x="937" y="174" width="1" height="8" fill="#000"/>
<rect x="935" y="177" width="5" height="5" fill="#000"/>
<rect x="945" y="156" width="1" height="49" fill="#000"/>
<rect x="943" y="180" width="5" height="8" fill="#000"/>
<rect x="953" y="172" width="1" height="23" fill="#000"/>
<rect x="951" y="186" width="5" height="2" fill="#000"/>
<rect x="961" y="165" width="1" height="50" fill="#000"/>
<rect x="959" y="186" width="5" height="19" fill="#000"/>
<rect x="969" y="159" width="1" height="46" fill="#000"/>
<rect x="967" y="168" width="5" height="37" fill="#000"/>
<rect x="968" y="169" width="3" height="35" fill="#fff"/>
<rect x="977" y="156" width="1" height="34" fill="#000"/>
<rect x="975" y="167" width="5" height="18" fill="#000"/>
<rect x="985" y="169" width="1" height="6" fill="#000"/>
<rect x="983" y="173" width="5" height="2" fill="#000"/>
<rect x="993" y="149" width="1" height="35" fill="#000"/>
<rect x="991" y="164" width="5" height="10" fill="#000"/>
<rect x="992" y="165" width="3" height="8" fill="#fff"/>
<rect x="1001" y="153" width="1" height="28" fill="#000"/>
<rect x="999" y="161" width="5" height="5" fill="#000"/>
<rect x="1000" y="162" width="3" height="3" fill="#fff"/>
<rect x="1009" y="129" width="1" height="50" fill="#000"/>
<rect x="1007" y="138" width="5" height="24" fill="#000"/>
<rect x="1008" y="139" width="3" height="22" fill="#fff"/>
<rect x="1017" y="96" width="1" height="47" fill="#000"/>
<rect x="1015" y="102" width="5" height="39" fill="#000"/>
<rect x="1016" y="103" width="3" height="37" fill="#fff"/>
<rect x="1025" y="98" width="1" height="25" fill="#000"/>
<rect x="1023" y="102" width="5" height="13" fill="#000"/>
<rect x="1033" y="116" width="1" height="16" fill="#000"/>
<rect x="1031" y="119" width="5" height="12" fill="#000"/>
<rect x="1041" y="107" width="1" height="69" fill="#000"/>
<rect x="1039" y="117" width="5" height="14" fill="#000"/>
<rect x="1040" y="118" width="3" height="12" fill="#fff"/>
<rect x="1049" y="104" width="1" height="60" fill="#000"/>
<rect x="1047" y="117" width="5" height="28" fill="#000"/>
<rect x="1057" y="124" width="1" height="38" fill="#000"/>
<rect x="1055" y="140" width="5" height="5" fill="#000"/>
<rect x="1056" y="141" width="3" height="3" fill="#fff"/>
<rect x="1065" y="127" width="1" height="23" fill="#000"/>
<rect x="1063" y="140" width="5" height="7" fill="#000"/>
<rect x="1073" y="132" width="1" height="15" fill="#000"/>
<rect x="1071" y="134" width="5" height="13" fill="#000"/>
<rect x="1072" y="135" width="3" height="11" fill="#fff"/>
<rect x="1081" y="108" width="1" height="39" fill="#000"/>
<rect x="1079" y="125" width="5" height="9" fill="#000"/>
<rect x="1080" y="126" width="3" height="7" fill="#fff"/>
<rect x="1089" y="94" width="1" height="32" fill="#000"/>
<rect x="1087" y="107" width="5" height="19" fill="#000"/>
<rect x="1088" y="108" width="3" height="17" fill="#fff"/>
<rect x="1097" y="75" width="1" height="33" fill="#000"/>
<rect x="1095" y="82" width="5" height="26" fill="#000"/>
<rect x="1096" y="83" width="3" height="24" fill="#fff"/>
<rect x="1105" y="75" width="1" height="57" fill="#000"/>
<rect x="1103" y="81" width="5" height="49" fill="#000"/>
<rect x="1113" y="107" width="1" height="14" fill="#000"/>
<rect x="1111" y="108" width="5" height="12" fill="#000"/>
<rect x="1112" y="109" width="3" height="10" fill="#fff"/>
<rect x="1121" y="76" width="1" height="39" fill="#000"/>
<rect x="1119" y="107" width="5" height="2" fill="#000"/>
<rect x="1129" y="77" width="1" height="35" fill="#000"/>
<rect x="1127" y="81" width="5" height="28" fill="#000"/>
<rect x="1128" y="82" width="3" height="26" fill="#fff"/>
<rect x="1137" y="55" width="1" height="45" fill="#000"/>
<rect x="1135" y="59" width="5" height="23" fill="#000"/>
<rect x="1136" y="60" width="3" height="21" fill="#fff"/>
<rect x="1145" y="57" width="1" height="56" fill="#000"/>
<rect x="1143" y="59" width="5" height="40" fill="#000"/>
<rect x="1153" y="94" width="1" height="47" fill="#000"/>
<rect x="1151" y="98" width="5" height="32" fill="#000"/>
<rect x="1161" y="126" width="1" height="22" fill="#000"/>
<rect x="1159" y="128" width="5" height="17" fill="#000"/>
<rect x="1169" y="136" width="1" height="39" fill="#000"/>
<rect x="1167" y="143" width="5" height="16" fill="#000"/>
<rect x="1177" y="130" width="1" height="43" fill="#000"/>
<rect x="1175" y="132" width="5" height="27" fill="#000"/>
<rect x="1176" y="133" width="3" height="25" fill="#fff"/>
<rect x="1185" y="123" width="1" height="48" fill="#000"/>
<rect x="1183" y="131" width="5" height="27" fill="#000"/>
<rect x="1193" y="148" width="1" height="39" fill="#000"/>
<rect x="1191" y="157" width="5" height="8" fill="#000"/>
<rect x="1201" y="157" width="1" height="48" fill="#000"/>
<rect x="1199" y="163" width="5" height="42" fill="#000"/>
<rect x="1209" y="199" width="1" height="14" fill="#000"/>
<rect x="1207" y="199" width="5" height="12" fill="#000"/>
<rect x="1217" y="198" width="1" height="21" fill="#000"/>
<rect x="1215" y="205" width="5" height="6" fill="#000"/>
<rect x="1216" y="206" width="3" height="4" fill="#fff"/>
<rect x="1225" y="166" width="1" height="39" fill="#000"/>
<rect x="1223" y="169" width="5" height="36" fill="#000"/>
<rect x="1224" y="170" width="3" height="34" fill="#fff"/>
<rect x="1233" y="160" width="1" height="45" fill="#000"/>
<rect x="1231" y="169" width="5" height="16" fill="#000"/>
<rect x="1241" y="155" width="1" height="32" fill="#000"/>
<rect x="1239" y="156" width="5" height="29" fill="#000"/>
<rect x="1240" y="157" width="3" height="27" fill="#fff"/>
<rect x="1249" y="146" width="1" height="19" fill="#000"/>
<rect x="1247" y="154" width="5" height="3" fill="#000"/>
<rect x="1257" y="152" width="1" height="5" fill="#000"/>
<rect x="1255" y="154" width="5" height="3" fill="#000"/>
<rect x="1256" y="155" width="3" height="1" fill="#fff"/>
<rect x="1265" y="146" width="1" height="37" fill="#000"/>
<rect x="1263" y="154" width="5" height="15" fill="#000"/>
<rect x="1273" y="149" width="1" height="40" fill="#000"/>
<rect x="1271" y="156" width="5" height="13" fill="#000"/>
<rect x="1272" y="157" width="3" height="11" fill="#fff"/>
<rect x="1281" y="154" width="1" height="61" fill="#000"/>
<rect x="1279" y="156" width="5" height="36" fill="#000"/>
<rect x="1289" y="168" width="1" height="36" fill="#000"/>
<rect x="1287" y="180" width="5" height="10" fill="#000"/>
<rect x="1288" y="181" width="3" height="8" fill="#fff"/>
<rect x="1297" y="160" width="1" height="35" fill="#000"/>
<rect x="1295" y="174" width="5" height="7" fill="#000"/>
<rect x="1296" y="175" width="3" height="5" fill="#fff"/>
<rect x="1305" y="174" width="1" height="7" fill="#000"/>
<rect x="1303" y="175" width="5" height="6" fill="#000"/>
<rect x="1313" y="171" width="1" height="45" fill="#000"/>
<rect x="1311" y="179" width="5" height="32" fill="#000"/>
<rect x="1321" y="198" width="1" height="40" fill="#000"/>
<rect x="1319" y="209" width="5" height="18" fill="#000"/>
<rect x="1329" y="220" width="1" height="25" fill="#000"/>
<rect x="1327" y="224" width="5" height="2" fill="#000"/>
<rect x="1337" y="223" width="1" height="41" fill="#000"/>
<rect x="1335" y="224" width="5" height="37" fill="#000"/>
<rect x="1345" y="221" width="1" height="54" fill="#000"/>
<rect x="1343" y="224" width="5" height="42" fill="#000"/>
<rect x="1344" y="225" width="3" height="40" fill="#fff"/>
<rect x="1353" y="217" width="1" height="7" fill="#000"/>
<rect x="1351" y="220" width="5" height="3" fill="#000"/>
<rect x="1352" y="221" width="3" height="1" fill="#fff"/>
<rect x="1361" y="211" width="1" height="27" fill="#000"/>
<rect x="1359" y="218" width="5" height="3" fill="#000"/>
<rect x="1369" y="179" width="1" height="42" fill="#000"/>
<rect x="1367" y="183" width="5" height="36" fill="#000"/>
<rect x="1368" y="184" width="3" height="34" fill="#fff"/>
<rect x="1377" y="168" width="1" height="16" fill="#000"/>
<rect x="1375" y="181" width="5" height="3" fill="#000"/>
<rect x="1385" y="164" width="1" height="20" fill="#000"/>
<rect x="1383" y="174" width="5" height="9" fill="#000"/>
<rect x="1384" y="175" width="3" height="7" fill="#fff"/>
<rect x="1393" y="174" width="1" height="29" fill="#000"/>
<rect x="1391" y="174" width="5" height="11" fill="#000"/>
<rect x="1401" y="178" width="1" height="7" fill="#000"/>
<rect x="1399" y="179" width="5" height="5" fill="#000"/>
<rect x="1409" y="172" width="1" height="11" fill="#000"/>
<rect x="1407" y="173" width="5" height="8" fill="#000"/>
<rect x="1408" y="174" width="3" height="6" fill="#fff"/>
<rect x="1417" y="153" width="1" height="43" fill="#000"/>
<rect x="1415" y="174" width="5" height="15" fill="#000"/>
</g>
<rect x="210.5" y="232.5" width="61" height="18" fill="#fff" stroke="#ff0000" stroke-width="1" shape-rendering="crispEdges"/>
<path d="M272,241.5 L281,241.5" fill="none" stroke="#ff0000" stroke-width="1" shape-rendering="crispEdges"/>
<text x="241.00" y="247.80" font-size="16" fill="#ff0000" text-anchor="middle" textLength="57.84" lengthAdjust="spacingAndGlyphs">1.20100</text>
<rect x="650.5" y="459.5" width="61" height="18" fill="#fff" stroke="#ff0000" stroke-width="1" shape-rendering="crispEdges"/>
<path d="M712,468.5 L721,468.5" fill="none" stroke="#ff0000" stroke-width="1" shape-rendering="crispEdges"/>
<text x="681.00" y="474.80" font-size="16" fill="#ff0000" text-anchor="middle" textLength="57.84" lengthAdjust="spacingAndGlyphs">1.15991</text>
<rect x="1066.5" y="46.5" width="61" height="18" fill="#fff" stroke="#ff0000" stroke-width="1" shape-rendering="crispEdges"/>
<path d="M1128,55.5 L1137,55.5" fill="none" stroke="#ff0000" stroke-width="1" shape-rendering="crispEdges"/>
<text x="1097.00" y="61.80" font-size="16" fill="#ff0000" text-anchor="middle" textLength="57.84" lengthAdjust="spacingAndGlyphs">1.23454</text>
<rect x="1275.5" y="265.5" width="61" height="18" fill="#fff" stroke="#ff0000" stroke-width="1" shape-rendering="crispEdges"/>
<path d="M1337,274.5 L1345.5,274.5 L1345.5,270" fill="none" stroke="#ff0000" stroke-width="1" shape-rendering="crispEdges"/>
<text x="1306.00" y="280.80" font-size="16" fill="#ff0000" text-anchor="middle" textLength="57.84" lengthAdjust="spacingAndGlyphs">1.19494</text>
<rect x="1346.5" y="144.5" width="61" height="18" fill="#fff" stroke="#ff0000" stroke-width="1" shape-rendering="crispEdges"/>
<path d="M1408,153.5 L1417,153.5" fill="none" stroke="#ff0000" stroke-width="1" shape-rendering="crispEdges"/>
<text x="1377.00" y="159.80" font-size="16" fill="#ff0000" text-anchor="middle" textLength="57.84" lengthAdjust="spacingAndGlyphs">1.21686</text>
<rect x="1084.5" y="176.5" width="73" height="23" fill="#fff" stroke="#ff0000" stroke-width="1" shape-rendering="crispEdges"/>
<path d="M1074,187.5 L1084,187.5" fill="none" stroke="#ff0000" stroke-width="1" shape-rendering="crispEdges"/>
<text x="1121.00" y="196.40" font-size="21" fill="#ff0000" text-anchor="middle" textLength="69.00" lengthAdjust="spacingAndGlyphs">1.21065</text>
<path d="M1138.0,59.0 L1213.0,213.0" fill="none" stroke="#ff0000" stroke-width="3.4" stroke-linejoin="round" stroke-linecap="round"/>
<path d="M1213.0,213.0 L1249.5,136.0" fill="none" stroke="#ff0000" stroke-width="3.4" stroke-linejoin="round" stroke-linecap="round"/>
<path d="M1249.5,136.0 L1342.0,272.5" fill="none" stroke="#ff0000" stroke-width="3.4" stroke-linejoin="round" stroke-linecap="round"/>
<path d="M1342.0,272.5 L1417.0,155.5" fill="none" stroke="#ff0000" stroke-width="3.4" stroke-linejoin="round" stroke-linecap="round"/>
<path d="M1417.0,155.5 L1431.0,183.0" fill="none" stroke="#ff0000" stroke-width="3.4" stroke-linejoin="round" stroke-linecap="round"/>
<path d="M1213.1,213.2 L1202.4,204.8 L1213.1,199.6 Z" fill="#ff0000"/>
<path d="M1249.6,135.8 L1249.8,149.4 L1238.9,144.3 Z" fill="#ff0000"/>
<path d="M1342.1,272.7 L1330.3,265.9 L1340.2,259.2 Z" fill="#ff0000"/>
<path d="M1417.1,155.3 L1415.6,168.8 L1405.5,162.4 Z" fill="#ff0000"/>
<path d="M1431.6,183.7 L1420.7,175.6 L1431.3,170.1 Z" fill="#ff0000"/>
<rect x="1333" y="184" width="139" height="6" fill="#00ff00" shape-rendering="crispEdges"/>
</g>
<path d="M1424,27 L1433,27 L1428.5,32 Z" fill="#a8a8a8"/>
<g transform="translate(1472,190) scale(0.033523)"><path d="M380,100 L130,290 M300,190 L590,185 L120,400 M300,210 L400,360 M340,330 L140,530 M280,420 L600,410 L110,650 M310,470 L370,560 M970,100 L1060,150 M790,260 L810,180 L1280,180 L1250,240 M960,250 L780,390 M1090,250 L1250,340 M840,400 L1210,400 M1020,400 L1020,600 M750,610 L1300,610" fill="none" stroke="#00ff00" stroke-width="1.3" vector-effect="non-scaling-stroke" stroke-linecap="square"/></g>
<g transform="translate(1515,190) scale(0.043346)"><path d="M100,150 L270,150 M190,80 L120,270 L260,255 M200,170 L200,500 M90,400 L260,360 M300,170 L500,160 M400,80 L330,390 M260,260 L520,250 M300,330 L470,320 L330,400 L460,490 M600,190 L780,180 M700,70 L700,490 L640,470 M610,330 L790,260 M1000,90 L830,120 M820,120 L820,300 L720,490 M820,235 L1030,235 M940,235 L940,500 M1330,70 L1330,220 M1330,150 L1510,150 M1190,220 L1470,220 L1460,350 L1210,350 Z M1160,420 L1140,490 M1260,420 L1290,480 M1370,420 L1400,480 M1470,400 L1520,480" fill="none" stroke="#00ff00" stroke-width="1.3" vector-effect="non-scaling-stroke" stroke-linecap="square"/></g>
<defs>
<linearGradient id="gbtn" x1="0" y1="0" x2="0" y2="1"><stop offset="0" stop-color="#5c5cf8"/><stop offset="1" stop-color="#3636e2"/></linearGradient>
<linearGradient id="gprice" x1="0" y1="0" x2="0" y2="1"><stop offset="0" stop-color="#3434e4"/><stop offset="1" stop-color="#0000c4"/></linearGradient>
<linearGradient id="garr" x1="0" y1="0" x2="0" y2="1"><stop offset="0" stop-color="#f2f2f2"/><stop offset="1" stop-color="#d2d2d2"/></linearGradient>
</defs>
<g shape-rendering="crispEdges">
<rect x="0" y="46" width="48" height="25" fill="url(#gbtn)"/>
<rect x="163" y="46" width="52" height="25" fill="url(#gbtn)"/>
<rect x="0" y="70" width="105" height="40" fill="url(#gprice)"/>
<rect x="107" y="70" width="108" height="40" fill="url(#gprice)"/>
<rect x="48" y="46" width="115" height="25" fill="#f4f4f4"/>
<rect x="50" y="46" width="113" height="24" fill="#bdbdbd"/>
<rect x="51" y="47" width="111" height="22" fill="#fff"/>
<rect x="52" y="48" width="18" height="20" fill="url(#garr)"/>
<rect x="71" y="47" width="1" height="22" fill="#c8c8c8"/>
<rect x="140" y="47" width="1" height="22" fill="#c8c8c8"/>
<rect x="142" y="48" width="18" height="20" fill="url(#garr)"/>
<rect x="0" y="69" width="44" height="1" fill="#9c9cf4"/>
<rect x="167" y="69" width="44" height="1" fill="#9c9cf4"/>
</g>
<path d="M57.5,55.5 L63.5,55.5 L60.5,58.5 Z" fill="#6070b0"/>
<path d="M146.5,58.5 L152.5,58.5 L149.5,55.5 Z" fill="#6070b0"/>
<text x="8.30" y="62.30" font-size="13" fill="#fff" textLength="26.00" lengthAdjust="spacingAndGlyphs">SELL</text>
<text x="176.20" y="62.30" font-size="13" fill="#fff" textLength="23.50" lengthAdjust="spacingAndGlyphs">BUY</text>
<text x="112.60" y="61.00" font-size="12.5" fill="#000" textLength="23.00" lengthAdjust="spacingAndGlyphs">1.00</text>
<text x="16.50" y="101.00" font-size="12" fill="#fff" font-weight="bold" textLength="23.00" lengthAdjust="spacingAndGlyphs">1.21</text>
<text x="43.90" y="100.40" font-size="33" fill="#fff" textLength="33.70" lengthAdjust="spacingAndGlyphs">05</text>
<text x="84.00" y="84.50" font-size="11" fill="#fff" font-weight="bold" textLength="5.80" lengthAdjust="spacingAndGlyphs">3</text>
<text x="126.60" y="101.00" font-size="12" fill="#fff" font-weight="bold" textLength="23.00" lengthAdjust="spacingAndGlyphs">1.21</text>
<text x="154.60" y="100.40" font-size="33" fill="#fff" textLength="34.30" lengthAdjust="spacingAndGlyphs">07</text>
<text x="194.00" y="84.50" font-size="11" fill="#fff" font-weight="bold" textLength="7.00" lengthAdjust="spacingAndGlyphs">4</text>
<path d="M0,37.5 L2.5,34 L4,37.5 Z" fill="#000"/>
<text x="8.30" y="37.40" font-size="9.8" fill="#000" textLength="213.40" lengthAdjust="spacingAndGlyphs">EURUSD-,Daily&#160;&#160;1.21309 1.21686 1.20943 1.21053</text>
<g shape-rendering="crispEdges">
<rect x="1684" y="576" width="2" height="1" fill="#000"/>
<rect x="1684" y="543" width="2" height="1" fill="#000"/>
<rect x="1684" y="510" width="2" height="1" fill="#000"/>
<rect x="1684" y="477" width="2" height="1" fill="#000"/>
<rect x="1684" y="444" width="2" height="1" fill="#000"/>
<rect x="1684" y="411" width="2" height="1" fill="#000"/>
<rect x="1684" y="378" width="2" height="1" fill="#000"/>
<rect x="1684" y="345" width="2" height="1" fill="#000"/>
<rect x="1684" y="312" width="2" height="1" fill="#000"/>
<rect x="1684" y="279" width="2" height="1" fill="#000"/>
<rect x="1684" y="246" width="2" height="1" fill="#000"/>
<rect x="1684" y="213" width="2" height="1" fill="#000"/>
<rect x="1684" y="180" width="2" height="1" fill="#000"/>
<rect x="1684" y="147" width="2" height="1" fill="#000"/>
<rect x="1684" y="114" width="2" height="1" fill="#000"/>
<rect x="1684" y="81" width="2" height="1" fill="#000"/>
<rect x="1684" y="48" width="2" height="1" fill="#000"/>
</g>
<text x="1689.30" y="580.20" font-size="9.8" fill="#000" textLength="32.70" lengthAdjust="spacingAndGlyphs">1.14035</text>
<text x="1689.30" y="547.20" font-size="9.8" fill="#000" textLength="32.70" lengthAdjust="spacingAndGlyphs">1.14635</text>
<text x="1689.30" y="514.20" font-size="9.8" fill="#000" textLength="32.70" lengthAdjust="spacingAndGlyphs">1.15220</text>
<text x="1689.30" y="481.20" font-size="9.8" fill="#000" textLength="32.70" lengthAdjust="spacingAndGlyphs">1.15820</text>
<text x="1689.30" y="448.20" font-size="9.8" fill="#000" textLength="32.70" lengthAdjust="spacingAndGlyphs">1.16420</text>
<text x="1689.30" y="415.20" font-size="9.8" fill="#000" textLength="32.70" lengthAdjust="spacingAndGlyphs">1.17020</text>
<text x="1689.30" y="382.20" font-size="9.8" fill="#000" textLength="32.70" lengthAdjust="spacingAndGlyphs">1.17620</text>
<text x="1689.30" y="349.20" font-size="9.8" fill="#000" textLength="32.70" lengthAdjust="spacingAndGlyphs">1.18205</text>
<text x="1689.30" y="316.20" font-size="9.8" fill="#000" textLength="32.70" lengthAdjust="spacingAndGlyphs">1.18805</text>
<text x="1689.30" y="283.20" font-size="9.8" fill="#000" textLength="32.70" lengthAdjust="spacingAndGlyphs">1.19405</text>
<text x="1689.30" y="250.20" font-size="9.8" fill="#000" textLength="32.70" lengthAdjust="spacingAndGlyphs">1.20005</text>
<text x="1689.30" y="217.20" font-size="9.8" fill="#000" textLength="32.70" lengthAdjust="spacingAndGlyphs">1.20590</text>
<text x="1689.30" y="184.20" font-size="9.8" fill="#000" textLength="32.70" lengthAdjust="spacingAndGlyphs">1.21190</text>
<text x="1689.30" y="151.20" font-size="9.8" fill="#000" textLength="32.70" lengthAdjust="spacingAndGlyphs">1.21790</text>
<text x="1689.30" y="118.20" font-size="9.8" fill="#000" textLength="32.70" lengthAdjust="spacingAndGlyphs">1.22390</text>
<text x="1689.30" y="85.20" font-size="9.8" fill="#000" textLength="32.70" lengthAdjust="spacingAndGlyphs">1.22975</text>
<text x="1689.30" y="52.20" font-size="9.8" fill="#000" textLength="32.70" lengthAdjust="spacingAndGlyphs">1.23575</text>
<g shape-rendering="crispEdges">
<rect x="1685" y="182" width="41" height="12" fill="#000"/>
<rect x="1685" y="134" width="41" height="11" fill="#ff0000"/>
<rect x="1685" y="149" width="41" height="11" fill="#ff0000"/>
<rect x="1685" y="181" width="41" height="11" fill="#ffa500"/>
<rect x="1685" y="198" width="41" height="11" fill="#0000ff"/>
<rect x="1685" y="214" width="41" height="11" fill="#0000ff"/>
</g>
<text x="1689.30" y="142.30" font-size="9.8" fill="#fff" textLength="32.70" lengthAdjust="spacingAndGlyphs">1.21924</text>
<text x="1689.30" y="157.30" font-size="9.8" fill="#fff" textLength="32.70" lengthAdjust="spacingAndGlyphs">1.21636</text>
<text x="1689.30" y="189.30" font-size="9.8" fill="#fff" textLength="32.70" lengthAdjust="spacingAndGlyphs">1.21065</text>
<text x="1689.30" y="206.30" font-size="9.8" fill="#fff" textLength="32.70" lengthAdjust="spacingAndGlyphs">1.20751</text>
<text x="1689.30" y="222.30" font-size="9.8" fill="#fff" textLength="32.70" lengthAdjust="spacingAndGlyphs">1.20474</text>
<clipPath id="cmacd"><rect x="0" y="582" width="1683" height="169"/></clipPath>
<g clip-path="url(#cmacd)">
<g shape-rendering="crispEdges">
<rect x="1" y="644" width="1" height="64" fill="#c0c0c0"/>
<rect x="9" y="638" width="1" height="70" fill="#c0c0c0"/>
<rect x="17" y="631" width="1" height="77" fill="#c0c0c0"/>
<rect x="25" y="626" width="1" height="82" fill="#c0c0c0"/>
<rect x="33" y="614" width="1" height="94" fill="#c0c0c0"/>
<rect x="41" y="610" width="1" height="98" fill="#c0c0c0"/>
<rect x="49" y="603" width="1" height="105" fill="#c0c0c0"/>
<rect x="57" y="593" width="1" height="115" fill="#c0c0c0"/>
<rect x="65" y="592" width="1" height="116" fill="#c0c0c0"/>
<rect x="73" y="593" width="1" height="115" fill="#c0c0c0"/>
<rect x="81" y="597" width="1" height="111" fill="#c0c0c0"/>
<rect x="89" y="597" width="1" height="111" fill="#c0c0c0"/>
<rect x="97" y="595" width="1" height="113" fill="#c0c0c0"/>
<rect x="105" y="594" width="1" height="114" fill="#c0c0c0"/>
<rect x="113" y="601" width="1" height="107" fill="#c0c0c0"/>
<rect x="121" y="608" width="1" height="100" fill="#c0c0c0"/>
<rect x="129" y="617" width="1" height="91" fill="#c0c0c0"/>
<rect x="137" y="626" width="1" height="82" fill="#c0c0c0"/>
<rect x="145" y="629" width="1" height="79" fill="#c0c0c0"/>
<rect x="153" y="632" width="1" height="76" fill="#c0c0c0"/>
<rect x="161" y="633" width="1" height="75" fill="#c0c0c0"/>
<rect x="169" y="634" width="1" height="74" fill="#c0c0c0"/>
<rect x="177" y="634" width="1" height="74" fill="#c0c0c0"/>
<rect x="185" y="630" width="1" height="78" fill="#c0c0c0"/>
<rect x="193" y="634" width="1" height="74" fill="#c0c0c0"/>
<rect x="201" y="637" width="1" height="71" fill="#c0c0c0"/>
<rect x="209" y="646" width="1" height="62" fill="#c0c0c0"/>
<rect x="217" y="652" width="1" height="56" fill="#c0c0c0"/>
<rect x="225" y="658" width="1" height="50" fill="#c0c0c0"/>
<rect x="233" y="661" width="1" height="47" fill="#c0c0c0"/>
<rect x="241" y="663" width="1" height="45" fill="#c0c0c0"/>
<rect x="249" y="667" width="1" height="41" fill="#c0c0c0"/>
<rect x="257" y="665" width="1" height="43" fill="#c0c0c0"/>
<rect x="265" y="663" width="1" height="45" fill="#c0c0c0"/>
<rect x="273" y="660" width="1" height="48" fill="#c0c0c0"/>
<rect x="281" y="659" width="1" height="49" fill="#c0c0c0"/>
<rect x="289" y="665" width="1" height="43" fill="#c0c0c0"/>
<rect x="297" y="669" width="1" height="39" fill="#c0c0c0"/>
<rect x="305" y="673" width="1" height="35" fill="#c0c0c0"/>
<rect x="313" y="677" width="1" height="31" fill="#c0c0c0"/>
<rect x="321" y="682" width="1" height="26" fill="#c0c0c0"/>
<rect x="329" y="690" width="1" height="18" fill="#c0c0c0"/>
<rect x="337" y="693" width="1" height="15" fill="#c0c0c0"/>
<rect x="345" y="695" width="1" height="13" fill="#c0c0c0"/>
<rect x="353" y="696" width="1" height="12" fill="#c0c0c0"/>
<rect x="361" y="696" width="1" height="12" fill="#c0c0c0"/>
<rect x="369" y="695" width="1" height="13" fill="#c0c0c0"/>
<rect x="377" y="695" width="1" height="13" fill="#c0c0c0"/>
<rect x="385" y="699" width="1" height="9" fill="#c0c0c0"/>
<rect x="393" y="698" width="1" height="10" fill="#c0c0c0"/>
<rect x="401" y="698" width="1" height="10" fill="#c0c0c0"/>
<rect x="409" y="698" width="1" height="10" fill="#c0c0c0"/>
<rect x="417" y="704" width="1" height="4" fill="#c0c0c0"/>
<rect x="425" y="707" width="1" height="6" fill="#c0c0c0"/>
<rect x="433" y="707" width="1" height="16" fill="#c0c0c0"/>
<rect x="441" y="707" width="1" height="23" fill="#c0c0c0"/>
<rect x="449" y="707" width="1" height="31" fill="#c0c0c0"/>
<rect x="457" y="707" width="1" height="36" fill="#c0c0c0"/>
<rect x="465" y="707" width="1" height="37" fill="#c0c0c0"/>
<rect x="473" y="707" width="1" height="33" fill="#c0c0c0"/>
<rect x="481" y="707" width="1" height="31" fill="#c0c0c0"/>
<rect x="489" y="707" width="1" height="27" fill="#c0c0c0"/>
<rect x="497" y="707" width="1" height="26" fill="#c0c0c0"/>
<rect x="505" y="707" width="1" height="25" fill="#c0c0c0"/>
<rect x="513" y="707" width="1" height="19" fill="#c0c0c0"/>
<rect x="521" y="707" width="1" height="17" fill="#c0c0c0"/>
<rect x="529" y="707" width="1" height="14" fill="#c0c0c0"/>
<rect x="537" y="707" width="1" height="11" fill="#c0c0c0"/>
<rect x="545" y="707" width="1" height="5" fill="#c0c0c0"/>
<rect x="553" y="706" width="1" height="2" fill="#c0c0c0"/>
<rect x="561" y="703" width="1" height="5" fill="#c0c0c0"/>
<rect x="569" y="706" width="1" height="2" fill="#c0c0c0"/>
<rect x="577" y="707" width="1" height="2" fill="#c0c0c0"/>
<rect x="585" y="707" width="1" height="5" fill="#c0c0c0"/>
<rect x="593" y="707" width="1" height="8" fill="#c0c0c0"/>
<rect x="601" y="707" width="1" height="10" fill="#c0c0c0"/>
<rect x="609" y="707" width="1" height="7" fill="#c0c0c0"/>
<rect x="617" y="707" width="1" height="1" fill="#c0c0c0"/>
<rect x="625" y="701" width="1" height="7" fill="#c0c0c0"/>
<rect x="633" y="699" width="1" height="9" fill="#c0c0c0"/>
<rect x="641" y="695" width="1" height="13" fill="#c0c0c0"/>
<rect x="649" y="692" width="1" height="16" fill="#c0c0c0"/>
<rect x="657" y="692" width="1" height="16" fill="#c0c0c0"/>
<rect x="665" y="695" width="1" height="13" fill="#c0c0c0"/>
<rect x="673" y="699" width="1" height="9" fill="#c0c0c0"/>
<rect x="681" y="707" width="1" height="1" fill="#c0c0c0"/>
<rect x="689" y="707" width="1" height="10" fill="#c0c0c0"/>
<rect x="697" y="707" width="1" height="17" fill="#c0c0c0"/>
<rect x="705" y="707" width="1" height="22" fill="#c0c0c0"/>
<rect x="713" y="707" width="1" height="18" fill="#c0c0c0"/>
<rect x="721" y="707" width="1" height="17" fill="#c0c0c0"/>
<rect x="729" y="707" width="1" height="10" fill="#c0c0c0"/>
<rect x="737" y="706" width="1" height="2" fill="#c0c0c0"/>
<rect x="745" y="697" width="1" height="11" fill="#c0c0c0"/>
<rect x="753" y="695" width="1" height="13" fill="#c0c0c0"/>
<rect x="761" y="694" width="1" height="14" fill="#c0c0c0"/>
<rect x="769" y="696" width="1" height="12" fill="#c0c0c0"/>
<rect x="777" y="696" width="1" height="12" fill="#c0c0c0"/>
<rect x="785" y="694" width="1" height="14" fill="#c0c0c0"/>
<rect x="793" y="692" width="1" height="16" fill="#c0c0c0"/>
<rect x="801" y="690" width="1" height="18" fill="#c0c0c0"/>
<rect x="809" y="688" width="1" height="20" fill="#c0c0c0"/>
<rect x="817" y="688" width="1" height="20" fill="#c0c0c0"/>
<rect x="825" y="687" width="1" height="21" fill="#c0c0c0"/>
<rect x="833" y="686" width="1" height="22" fill="#c0c0c0"/>
<rect x="841" y="686" width="1" height="22" fill="#c0c0c0"/>
<rect x="849" y="687" width="1" height="21" fill="#c0c0c0"/>
<rect x="857" y="685" width="1" height="23" fill="#c0c0c0"/>
<rect x="865" y="682" width="1" height="26" fill="#c0c0c0"/>
<rect x="873" y="681" width="1" height="27" fill="#c0c0c0"/>
<rect x="881" y="677" width="1" height="31" fill="#c0c0c0"/>
<rect x="889" y="673" width="1" height="35" fill="#c0c0c0"/>
<rect x="897" y="673" width="1" height="35" fill="#c0c0c0"/>
<rect x="905" y="664" width="1" height="44" fill="#c0c0c0"/>
<rect x="913" y="654" width="1" height="54" fill="#c0c0c0"/>
<rect x="921" y="646" width="1" height="62" fill="#c0c0c0"/>
<rect x="929" y="640" width="1" height="68" fill="#c0c0c0"/>
<rect x="937" y="638" width="1" height="70" fill="#c0c0c0"/>
<rect x="945" y="637" width="1" height="71" fill="#c0c0c0"/>
<rect x="953" y="638" width="1" height="70" fill="#c0c0c0"/>
<rect x="961" y="641" width="1" height="67" fill="#c0c0c0"/>
<rect x="969" y="640" width="1" height="68" fill="#c0c0c0"/>
<rect x="977" y="642" width="1" height="66" fill="#c0c0c0"/>
<rect x="985" y="643" width="1" height="65" fill="#c0c0c0"/>
<rect x="993" y="643" width="1" height="65" fill="#c0c0c0"/>
<rect x="1001" y="644" width="1" height="64" fill="#c0c0c0"/>
<rect x="1009" y="642" width="1" height="66" fill="#c0c0c0"/>
<rect x="1017" y="638" width="1" height="70" fill="#c0c0c0"/>
<rect x="1025" y="636" width="1" height="72" fill="#c0c0c0"/>
<rect x="1033" y="637" width="1" height="71" fill="#c0c0c0"/>
<rect x="1041" y="638" width="1" height="70" fill="#c0c0c0"/>
<rect x="1049" y="642" width="1" height="66" fill="#c0c0c0"/>
<rect x="1057" y="646" width="1" height="62" fill="#c0c0c0"/>
<rect x="1065" y="650" width="1" height="58" fill="#c0c0c0"/>
<rect x="1073" y="653" width="1" height="55" fill="#c0c0c0"/>
<rect x="1081" y="654" width="1" height="54" fill="#c0c0c0"/>
<rect x="1089" y="654" width="1" height="54" fill="#c0c0c0"/>
<rect x="1097" y="651" width="1" height="57" fill="#c0c0c0"/>
<rect x="1105" y="656" width="1" height="52" fill="#c0c0c0"/>
<rect x="1113" y="657" width="1" height="51" fill="#c0c0c0"/>
<rect x="1121" y="659" width="1" height="49" fill="#c0c0c0"/>
<rect x="1129" y="657" width="1" height="51" fill="#c0c0c0"/>
<rect x="1137" y="654" width="1" height="54" fill="#c0c0c0"/>
<rect x="1145" y="657" width="1" height="51" fill="#c0c0c0"/>
<rect x="1153" y="663" width="1" height="45" fill="#c0c0c0"/>
<rect x="1161" y="671" width="1" height="37" fill="#c0c0c0"/>
<rect x="1169" y="679" width="1" height="29" fill="#c0c0c0"/>
<rect x="1177" y="682" width="1" height="26" fill="#c0c0c0"/>
<rect x="1185" y="688" width="1" height="20" fill="#c0c0c0"/>
<rect x="1193" y="694" width="1" height="14" fill="#c0c0c0"/>
<rect x="1201" y="703" width="1" height="5" fill="#c0c0c0"/>
<rect x="1209" y="707" width="1" height="6" fill="#c0c0c0"/>
<rect x="1217" y="707" width="1" height="11" fill="#c0c0c0"/>
<rect x="1225" y="707" width="1" height="12" fill="#c0c0c0"/>
<rect x="1233" y="707" width="1" height="13" fill="#c0c0c0"/>
<rect x="1241" y="707" width="1" height="11" fill="#c0c0c0"/>
<rect x="1249" y="707" width="1" height="9" fill="#c0c0c0"/>
<rect x="1257" y="707" width="1" height="8" fill="#c0c0c0"/>
<rect x="1265" y="707" width="1" height="8" fill="#c0c0c0"/>
<rect x="1273" y="707" width="1" height="7" fill="#c0c0c0"/>
<rect x="1281" y="707" width="1" height="10" fill="#c0c0c0"/>
<rect x="1289" y="707" width="1" height="11" fill="#c0c0c0"/>
<rect x="1297" y="707" width="1" height="11" fill="#c0c0c0"/>
<rect x="1305" y="707" width="1" height="11" fill="#c0c0c0"/>
<rect x="1313" y="707" width="1" height="15" fill="#c0c0c0"/>
<rect x="1321" y="707" width="1" height="20" fill="#c0c0c0"/>
<rect x="1329" y="707" width="1" height="24" fill="#c0c0c0"/>
<rect x="1337" y="707" width="1" height="31" fill="#c0c0c0"/>
<rect x="1345" y="707" width="1" height="31" fill="#c0c0c0"/>
<rect x="1353" y="707" width="1" height="31" fill="#c0c0c0"/>
<rect x="1361" y="707" width="1" height="30" fill="#c0c0c0"/>
<rect x="1369" y="707" width="1" height="25" fill="#c0c0c0"/>
<rect x="1377" y="707" width="1" height="20" fill="#c0c0c0"/>
<rect x="1385" y="707" width="1" height="16" fill="#c0c0c0"/>
<rect x="1393" y="707" width="1" height="13" fill="#c0c0c0"/>
<rect x="1401" y="707" width="1" height="11" fill="#c0c0c0"/>
<rect x="1409" y="707" width="1" height="7" fill="#c0c0c0"/>
<rect x="1417" y="707" width="1" height="7" fill="#c0c0c0"/>
</g>
<polyline fill="none" stroke="#ff0000" stroke-width="1" shape-rendering="crispEdges" stroke-dasharray="3,3" points="0.0,661.0 19.0,650.5 38.0,636.0 57.0,623.0 65.5,615.1 73.5,609.3 81.5,604.6 89.5,600.8 97.5,597.3 105.5,595.0 113.5,594.0 121.5,594.6 129.5,597.3 137.5,601.1 145.5,605.2 153.5,609.2 161.5,613.2 169.5,617.6 177.5,622.1 185.5,625.3 193.5,628.3 201.5,630.5 209.5,632.7 217.5,635.3 225.5,638.3 233.5,641.5 241.5,644.9 249.5,648.6 257.5,652.7 265.5,655.9 273.5,658.5 281.5,660.0 289.5,661.4 297.5,662.7 305.5,664.0 313.5,665.6 321.5,667.4 329.5,670.2 337.5,673.6 345.5,677.6 353.5,681.8 361.5,685.3 369.5,688.2 377.5,690.7 385.5,693.2 393.5,695.0 401.5,695.9 409.5,696.4 417.5,697.5 425.5,699.3 433.5,702.3 441.5,706.1 449.5,710.8 457.5,715.8 465.5,720.9 473.5,725.6 481.5,730.0 489.5,733.3 497.5,735.5 505.5,736.5 513.5,736.0 521.5,734.5 529.5,731.9 537.5,728.9 545.5,725.7 553.5,722.3 561.5,718.9 569.5,715.9 577.5,713.3 585.5,711.8 593.5,710.7 601.5,710.2 609.5,709.8 617.5,709.4 625.5,708.9 633.5,708.4 641.5,707.1 649.5,705.3 657.5,703.2 665.5,701.0 673.5,699.2 681.5,698.5 689.5,699.5 697.5,701.9 705.5,705.3 713.5,708.6 721.5,712.1 729.5,714.8 737.5,716.0 745.5,715.7 753.5,714.3 761.5,711.8 769.5,708.8 777.5,705.1 785.5,701.8 793.5,698.3 801.5,695.4 809.5,693.4 817.5,692.3 825.5,691.4 833.5,690.5 841.5,689.3 849.5,688.3 857.5,687.3 865.5,686.1 873.5,685.1 881.5,683.9 889.5,682.2 897.5,680.6 905.5,678.0 913.5,674.5 921.5,669.7 929.5,664.6 937.5,659.6 945.5,654.7 953.5,650.3 961.5,646.7 969.5,643.0 977.5,640.5 985.5,639.2 993.5,639.0 1001.5,639.4 1009.5,639.9 1017.5,639.9 1025.5,639.7 1033.5,639.3 1041.5,639.0 1049.5,639.1 1057.5,639.4 1065.5,640.2 1073.5,641.2 1081.5,642.5 1089.5,644.4 1097.5,646.2 1105.5,648.2 1113.5,650.4 1121.5,652.2 1129.5,653.5 1137.5,653.9 1145.5,654.4 1153.5,655.4 1161.5,657.2 1169.5,660.4 1177.5,663.4 1185.5,666.9 1193.5,670.9 1201.5,676.2 1209.5,682.7 1217.5,689.6 1225.5,695.7 1233.5,701.2 1241.5,705.6 1249.5,709.3 1257.5,712.2 1265.5,714.5 1273.5,715.5 1281.5,715.9 1289.5,715.9 1297.5,715.8 1305.5,715.6 1313.5,716.1 1321.5,717.3 1329.5,719.2 1337.5,721.8 1345.5,724.5 1353.5,726.9 1361.5,729.1 1369.5,730.7 1377.5,731.7 1385.5,731.8 1393.5,730.9 1401.5,729.4 1409.5,726.8 1417.5,724.0"/>
<path d="M1194.5,705.5 L1350.0,741.5" fill="none" stroke="#ff0000" stroke-width="2.7" stroke-linejoin="round" stroke-linecap="round"/>
<path d="M1350.0,741.5 L1418.5,710.0" fill="none" stroke="#ff0000" stroke-width="2.7" stroke-linejoin="round" stroke-linecap="round"/>
<path d="M1352.0,742.0 L1340.1,744.4 L1342.4,734.7 Z" fill="#ff0000"/>
<path d="M1419.9,709.6 L1412.0,718.7 L1407.8,709.6 Z" fill="#ff0000"/>
</g>
<text x="-1.00" y="594.00" font-size="9.8" fill="#000" textLength="152.00" lengthAdjust="spacingAndGlyphs">MACD(12,26,9) -0.000602 -0.001915</text>
<g shape-rendering="crispEdges"><rect x="1684" y="583" width="2" height="1" fill="#000"/><rect x="1684" y="707" width="2" height="1" fill="#000"/><rect x="1684" y="750" width="2" height="1" fill="#000"/></g>
<text x="1686.80" y="591.80" font-size="9.8" fill="#000" textLength="37.70" lengthAdjust="spacingAndGlyphs">0.014706</text>
<text x="1686.80" y="710.60" font-size="9.8" fill="#000" textLength="18.20" lengthAdjust="spacingAndGlyphs">0.00</text>
<text x="1686.80" y="747.60" font-size="9.8" fill="#000" textLength="40.60" lengthAdjust="spacingAndGlyphs">-0.005113</text>
<clipPath id="crsi"><rect x="0" y="754" width="1683" height="173"/></clipPath>
<g clip-path="url(#crsi)">
<line x1="0" y1="789.5" x2="1683" y2="789.5" stroke="#b4b4b4" stroke-width="1" stroke-dasharray="3,3" shape-rendering="crispEdges"/>
<line x1="0" y1="840.5" x2="1683" y2="840.5" stroke="#b4b4b4" stroke-width="1" stroke-dasharray="3,3" shape-rendering="crispEdges"/>
<line x1="0" y1="901.5" x2="1683" y2="901.5" stroke="#b4b4b4" stroke-width="1" stroke-dasharray="3,3" shape-rendering="crispEdges"/>
<polyline fill="none" stroke="#1e90ff" stroke-width="1" shape-rendering="crispEdges" points="1.5,797.9 9.5,795.0 17.5,791.7 25.5,790.7 33.5,783.0 41.5,795.5 49.5,791.2 57.5,786.0 65.5,803.7 73.5,804.7 81.5,809.1 89.5,804.5 97.5,799.8 105.5,799.5 113.5,818.4 121.5,818.4 129.5,826.6 137.5,826.7 145.5,819.2 153.5,816.9 161.5,814.2 169.5,812.6 177.5,810.1 185.5,802.7 193.5,824.2 201.5,821.0 209.5,834.9 217.5,833.5 225.5,834.4 233.5,828.2 241.5,827.5 249.5,831.7 257.5,821.5 265.5,818.2 273.5,815.7 281.5,819.4 289.5,834.8 297.5,835.3 305.5,833.7 313.5,837.1 321.5,840.4 329.5,850.1 337.5,842.4 345.5,838.4 353.5,837.0 361.5,835.6 369.5,829.9 377.5,836.3 385.5,844.4 393.5,835.2 401.5,834.1 409.5,836.3 417.5,853.4 425.5,862.1 433.5,868.8 441.5,864.5 449.5,871.3 457.5,868.7 465.5,857.4 473.5,844.2 481.5,847.7 489.5,843.3 497.5,849.3 505.5,847.4 513.5,834.1 521.5,843.8 529.5,838.5 537.5,838.7 545.5,828.4 553.5,830.1 561.5,831.3 569.5,845.4 577.5,845.4 585.5,851.9 593.5,848.8 601.5,850.2 609.5,838.1 617.5,826.9 625.5,823.6 633.5,832.0 641.5,824.5 649.5,826.6 657.5,835.6 665.5,841.1 673.5,847.6 681.5,859.0 689.5,863.6 697.5,864.0 705.5,864.0 713.5,838.3 721.5,843.6 729.5,830.0 737.5,821.6 745.5,820.3 753.5,833.0 761.5,834.1 769.5,840.8 777.5,836.4 785.5,832.0 793.5,830.2 801.5,827.7 809.5,827.3 817.5,831.4 825.5,827.7 833.5,829.7 841.5,828.3 849.5,834.4 857.5,823.3 865.5,820.3 873.5,822.1 881.5,813.8 889.5,811.7 897.5,821.9 905.5,803.7 913.5,799.5 921.5,796.7 929.5,799.7 937.5,804.2 945.5,807.3 953.5,807.3 961.5,816.4 969.5,807.2 977.5,815.5 985.5,812.8 993.5,810.3 1001.5,809.6 1009.5,803.9 1017.5,796.8 1025.5,803.1 1033.5,811.5 1041.5,808.4 1049.5,821.2 1057.5,820.1 1065.5,822.9 1073.5,819.4 1081.5,816.6 1089.5,811.3 1097.5,804.8 1105.5,827.5 1113.5,821.6 1121.5,821.8 1129.5,814.5 1137.5,809.3 1145.5,826.1 1153.5,836.9 1161.5,841.7 1169.5,846.2 1177.5,837.5 1185.5,845.3 1193.5,847.4 1201.5,858.2 1209.5,859.7 1217.5,857.5 1225.5,844.5 1233.5,848.9 1241.5,839.6 1249.5,839.6 1257.5,839.2 1265.5,844.2 1273.5,839.7 1281.5,851.4 1289.5,847.4 1297.5,845.1 1305.5,847.1 1313.5,856.9 1321.5,861.8 1329.5,861.4 1337.5,870.9 1345.5,854.5 1353.5,853.0 1361.5,852.8 1369.5,838.4 1377.5,838.5 1385.5,835.3 1393.5,839.3 1401.5,838.9 1409.5,834.6 1417.5,841.4"/>
<path d="M1234.6,829.1 L1324.9,876.8" fill="none" stroke="#ff0000" stroke-width="3.2" stroke-linejoin="round" stroke-linecap="round"/>
<path d="M1324.9,876.8 L1377.0,841.2" fill="none" stroke="#ff0000" stroke-width="3.2" stroke-linejoin="round" stroke-linecap="round"/>
<path d="M1377.0,841.2 L1418.4,837.3" fill="none" stroke="#ff0000" stroke-width="3.2" stroke-linejoin="round" stroke-linecap="round"/>
<path d="M1326.4,877.6 L1313.2,876.8 L1318.3,867.1 Z" fill="#ff0000"/>
<path d="M1378.6,840.0 L1371.8,851.4 L1365.6,842.3 Z" fill="#ff0000"/>
<path d="M1420.4,837.1 L1409.0,843.7 L1407.9,832.8 Z" fill="#ff0000"/>
</g>
<text x="-2.00" y="766.40" font-size="9.8" fill="#000" textLength="67.00" lengthAdjust="spacingAndGlyphs">RSI(14) 49.4100</text>
<g shape-rendering="crispEdges">
<rect x="1684" y="755" width="2" height="1" fill="#000"/>
<rect x="1684" y="789" width="2" height="1" fill="#000"/>
<rect x="1684" y="840" width="2" height="1" fill="#000"/>
<rect x="1684" y="901" width="2" height="1" fill="#000"/>
<rect x="1684" y="926" width="2" height="1" fill="#000"/>
</g>
<text x="1687.30" y="764.00" font-size="9.8" fill="#000" textLength="14.30" lengthAdjust="spacingAndGlyphs">100</text>
<text x="1687.30" y="792.80" font-size="9.8" fill="#000" textLength="9.80" lengthAdjust="spacingAndGlyphs">80</text>
<text x="1687.30" y="843.60" font-size="9.8" fill="#000" textLength="9.80" lengthAdjust="spacingAndGlyphs">50</text>
<text x="1687.30" y="904.80" font-size="9.8" fill="#000" textLength="9.80" lengthAdjust="spacingAndGlyphs">15</text>
<text x="1687.30" y="924.00" font-size="9.8" fill="#000" textLength="5.00" lengthAdjust="spacingAndGlyphs">0</text>
<g shape-rendering="crispEdges">
<rect x="-7" y="928" width="1" height="3" fill="#000"/>
<rect x="57" y="928" width="1" height="3" fill="#000"/>
<rect x="121" y="928" width="1" height="3" fill="#000"/>
<rect x="185" y="928" width="1" height="3" fill="#000"/>
<rect x="249" y="928" width="1" height="3" fill="#000"/>
<rect x="313" y="928" width="1" height="3" fill="#000"/>
<rect x="377" y="928" width="1" height="3" fill="#000"/>
<rect x="441" y="928" width="1" height="3" fill="#000"/>
<rect x="505" y="928" width="1" height="3" fill="#000"/>
<rect x="569" y="928" width="1" height="3" fill="#000"/>
<rect x="633" y="928" width="1" height="3" fill="#000"/>
<rect x="697" y="928" width="1" height="3" fill="#000"/>
<rect x="761" y="928" width="1" height="3" fill="#000"/>
<rect x="825" y="928" width="1" height="3" fill="#000"/>
<rect x="889" y="928" width="1" height="3" fill="#000"/>
<rect x="953" y="928" width="1" height="3" fill="#000"/>
<rect x="1017" y="928" width="1" height="3" fill="#000"/>
<rect x="1081" y="928" width="1" height="3" fill="#000"/>
<rect x="1145" y="928" width="1" height="3" fill="#000"/>
<rect x="1209" y="928" width="1" height="3" fill="#000"/>
<rect x="1273" y="928" width="1" height="3" fill="#000"/>
<rect x="1337" y="928" width="1" height="3" fill="#000"/>
<rect x="1401" y="928" width="1" height="3" fill="#000"/>
</g>
<text x="-7.60" y="940.00" font-size="9.8" fill="#000" textLength="47.48" lengthAdjust="spacingAndGlyphs">21 Jul 2020</text>
<text x="56.40" y="940.00" font-size="9.8" fill="#000" textLength="47.48" lengthAdjust="spacingAndGlyphs">30 Jul 2020</text>
<text x="120.40" y="940.00" font-size="9.8" fill="#000" textLength="46.47" lengthAdjust="spacingAndGlyphs">9 Aug 2020</text>
<text x="184.40" y="940.00" font-size="9.8" fill="#000" textLength="51.57" lengthAdjust="spacingAndGlyphs">18 Aug 2020</text>
<text x="248.40" y="940.00" font-size="9.8" fill="#000" textLength="51.57" lengthAdjust="spacingAndGlyphs">27 Aug 2020</text>
<text x="312.40" y="940.00" font-size="9.8" fill="#000" textLength="46.97" lengthAdjust="spacingAndGlyphs">6 Sep 2020</text>
<text x="376.40" y="940.00" font-size="9.8" fill="#000" textLength="52.08" lengthAdjust="spacingAndGlyphs">15 Sep 2020</text>
<text x="440.40" y="940.00" font-size="9.8" fill="#000" textLength="52.08" lengthAdjust="spacingAndGlyphs">24 Sep 2020</text>
<text x="504.40" y="940.00" font-size="9.8" fill="#000" textLength="44.92" lengthAdjust="spacingAndGlyphs">4 Oct 2020</text>
<text x="568.40" y="940.00" font-size="9.8" fill="#000" textLength="50.03" lengthAdjust="spacingAndGlyphs">13 Oct 2020</text>
<text x="632.40" y="940.00" font-size="9.8" fill="#000" textLength="50.03" lengthAdjust="spacingAndGlyphs">22 Oct 2020</text>
<text x="696.40" y="940.00" font-size="9.8" fill="#000" textLength="46.97" lengthAdjust="spacingAndGlyphs">1 Nov 2020</text>
<text x="760.40" y="940.00" font-size="9.8" fill="#000" textLength="52.07" lengthAdjust="spacingAndGlyphs">10 Nov 2020</text>
<text x="824.40" y="940.00" font-size="9.8" fill="#000" textLength="52.07" lengthAdjust="spacingAndGlyphs">19 Nov 2020</text>
<text x="888.40" y="940.00" font-size="9.8" fill="#000" textLength="52.07" lengthAdjust="spacingAndGlyphs">29 Nov 2020</text>
<text x="952.40" y="940.00" font-size="9.8" fill="#000" textLength="46.97" lengthAdjust="spacingAndGlyphs">8 Dec 2020</text>
<text x="1016.40" y="940.00" font-size="9.8" fill="#000" textLength="52.07" lengthAdjust="spacingAndGlyphs">17 Dec 2020</text>
<text x="1080.40" y="940.00" font-size="9.8" fill="#000" textLength="52.07" lengthAdjust="spacingAndGlyphs">28 Dec 2020</text>
<text x="1144.40" y="940.00" font-size="9.8" fill="#000" textLength="45.44" lengthAdjust="spacingAndGlyphs">7 Jan 2021</text>
<text x="1208.40" y="940.00" font-size="9.8" fill="#000" textLength="50.55" lengthAdjust="spacingAndGlyphs">17 Jan 2021</text>
<text x="1272.40" y="940.00" font-size="9.8" fill="#000" textLength="50.55" lengthAdjust="spacingAndGlyphs">26 Jan 2021</text>
<text x="1336.40" y="940.00" font-size="9.8" fill="#000" textLength="46.46" lengthAdjust="spacingAndGlyphs">4 Feb 2021</text>
<text x="1400.40" y="940.00" font-size="9.8" fill="#000" textLength="51.57" lengthAdjust="spacingAndGlyphs">14 Feb 2021</text>
</svg></body></html>
